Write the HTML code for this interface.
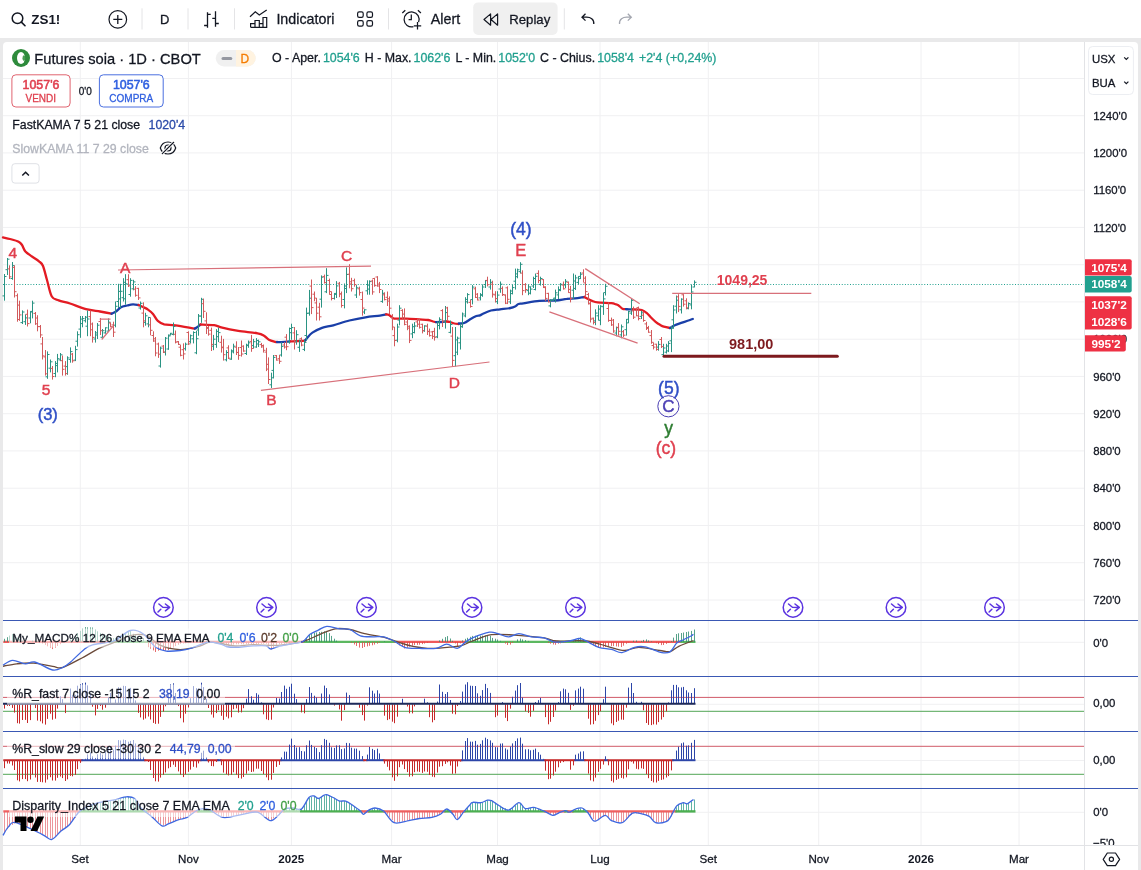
<!DOCTYPE html>
<html><head><meta charset="utf-8"><title>ZS1! Futures soia</title>
<style>
html,body{margin:0;padding:0;background:#e9e9ea;}
body{width:1141px;height:870px;overflow:hidden;position:relative;font-family:'Liberation Sans','DejaVu Sans',sans-serif;}
svg text{font-family:'Liberation Sans','DejaVu Sans',sans-serif;}
</style></head><body>
<svg width="1141" height="870" viewBox="0 0 1141 870" style="position:absolute;left:0;top:0;display:block">
<rect x="0" y="0" width="1141" height="870" fill="#e9e9ea"/>
<rect x="0" y="0" width="1141" height="38" fill="#ffffff"/>
<path d="M3,46 a4,4 0 0 1 4,-4 H1134 a4,4 0 0 1 4,4 V870 H3 Z" fill="#ffffff"/>
<line x1="80.3" y1="42" x2="80.3" y2="845" stroke="#f0f0f2" stroke-width="1"/>
<line x1="188.4" y1="42" x2="188.4" y2="845" stroke="#f0f0f2" stroke-width="1"/>
<line x1="291.4" y1="42" x2="291.4" y2="845" stroke="#f0f0f2" stroke-width="1"/>
<line x1="391.6" y1="42" x2="391.6" y2="845" stroke="#f0f0f2" stroke-width="1"/>
<line x1="497.5" y1="42" x2="497.5" y2="845" stroke="#f0f0f2" stroke-width="1"/>
<line x1="600" y1="42" x2="600" y2="845" stroke="#f0f0f2" stroke-width="1"/>
<line x1="708.3" y1="42" x2="708.3" y2="845" stroke="#f0f0f2" stroke-width="1"/>
<line x1="818.7" y1="42" x2="818.7" y2="845" stroke="#f0f0f2" stroke-width="1"/>
<line x1="921" y1="42" x2="921" y2="845" stroke="#f0f0f2" stroke-width="1"/>
<line x1="1019" y1="42" x2="1019" y2="845" stroke="#f0f0f2" stroke-width="1"/>
<line x1="3" y1="78.5" x2="1084" y2="78.5" stroke="#f0f0f2" stroke-width="1"/>
<line x1="3" y1="115.7" x2="1084" y2="115.7" stroke="#f0f0f2" stroke-width="1"/>
<line x1="3" y1="152.9" x2="1084" y2="152.9" stroke="#f0f0f2" stroke-width="1"/>
<line x1="3" y1="190.2" x2="1084" y2="190.2" stroke="#f0f0f2" stroke-width="1"/>
<line x1="3" y1="227.4" x2="1084" y2="227.4" stroke="#f0f0f2" stroke-width="1"/>
<line x1="3" y1="264.7" x2="1084" y2="264.7" stroke="#f0f0f2" stroke-width="1"/>
<line x1="3" y1="301.9" x2="1084" y2="301.9" stroke="#f0f0f2" stroke-width="1"/>
<line x1="3" y1="339.2" x2="1084" y2="339.2" stroke="#f0f0f2" stroke-width="1"/>
<line x1="3" y1="376.4" x2="1084" y2="376.4" stroke="#f0f0f2" stroke-width="1"/>
<line x1="3" y1="413.7" x2="1084" y2="413.7" stroke="#f0f0f2" stroke-width="1"/>
<line x1="3" y1="450.9" x2="1084" y2="450.9" stroke="#f0f0f2" stroke-width="1"/>
<line x1="3" y1="488.2" x2="1084" y2="488.2" stroke="#f0f0f2" stroke-width="1"/>
<line x1="3" y1="525.5" x2="1084" y2="525.5" stroke="#f0f0f2" stroke-width="1"/>
<line x1="3" y1="562.7" x2="1084" y2="562.7" stroke="#f0f0f2" stroke-width="1"/>
<line x1="3" y1="600.0" x2="1084" y2="600.0" stroke="#f0f0f2" stroke-width="1"/>
<line x1="3" y1="642.3" x2="1084" y2="642.3" stroke="#f0f0f2" stroke-width="1"/>
<line x1="3" y1="704.3" x2="1084" y2="704.3" stroke="#f0f0f2" stroke-width="1"/>
<line x1="3" y1="760.5" x2="1084" y2="760.5" stroke="#f0f0f2" stroke-width="1"/>
<line x1="3" y1="812.3" x2="1084" y2="812.3" stroke="#f0f0f2" stroke-width="1"/>
<line x1="1084.5" y1="42" x2="1084.5" y2="870" stroke="#e2e3e6" stroke-width="1"/>
<line x1="3" y1="845.5" x2="1138" y2="845.5" stroke="#e2e3e6" stroke-width="1"/>
<line x1="3.3" y1="641.9" x2="110.5" y2="641.9" stroke="#ef5a5a" stroke-width="2.2" opacity="1"/><line x1="109.3" y1="641.9" x2="153.5" y2="641.9" stroke="#5cb860" stroke-width="2.2" opacity="1"/><line x1="152.3" y1="641.9" x2="304.5" y2="641.9" stroke="#ef5a5a" stroke-width="2.2" opacity="1"/><line x1="303.3" y1="641.9" x2="397.5" y2="641.9" stroke="#5cb860" stroke-width="2.2" opacity="1"/><line x1="396.3" y1="641.9" x2="467.5" y2="641.9" stroke="#ef5a5a" stroke-width="2.2" opacity="1"/><line x1="466.3" y1="641.9" x2="555.5" y2="641.9" stroke="#5cb860" stroke-width="2.2" opacity="1"/><line x1="554.3" y1="641.9" x2="558.5" y2="641.9" stroke="#ef5a5a" stroke-width="2.2" opacity="1"/><line x1="557.3" y1="641.9" x2="588.5" y2="641.9" stroke="#5cb860" stroke-width="2.2" opacity="1"/><line x1="587.3" y1="641.9" x2="681.5" y2="641.9" stroke="#ef5a5a" stroke-width="2.2" opacity="1"/><line x1="680.3" y1="641.9" x2="695.5" y2="641.9" stroke="#5cb860" stroke-width="2.2" opacity="1"/>
<path d="M4.5,641.9V638.8M7.5,641.9V637.2M9.5,641.9V635.6M12.5,641.9V634.0M14.5,641.9V635.2M17.5,641.9V637.5M19.5,641.9V639.0M22.5,641.9V640.6M32.5,641.9V640.6M35.5,641.9V639.5M37.5,641.9V640.7M67.5,641.9V640.5M70.5,641.9V639.5M72.5,641.9V637.4M75.5,641.9V635.2M77.5,641.9V633.0M80.5,641.9V630.8M82.5,641.9V628.6M85.5,641.9V627.1M87.5,641.9V627.3M90.5,641.9V627.4M92.5,641.9V627.5M95.5,641.9V629.4M97.5,641.9V631.3M100.5,641.9V632.9M102.5,641.9V633.9M105.5,641.9V634.9M108.5,641.9V636.0M110.5,641.9V637.0M113.5,641.9V638.1M115.5,641.9V637.9M118.5,641.9V636.7M120.5,641.9V635.6M123.5,641.9V634.5M125.5,641.9V633.4M128.5,641.9V632.2M130.5,641.9V631.1M133.5,641.9V633.8M135.5,641.9V634.9M138.5,641.9V635.9M140.5,641.9V636.9M143.5,641.9V638.0M198.5,641.9V640.8M201.5,641.9V640.3M203.5,641.9V640.5M206.5,641.9V640.7M208.5,641.9V640.9M304.5,641.9V640.8M306.5,641.9V637.9M309.5,641.9V635.0M311.5,641.9V633.3M314.5,641.9V632.8M316.5,641.9V632.4M319.5,641.9V632.0M321.5,641.9V631.8M324.5,641.9V631.3M326.5,641.9V630.9M329.5,641.9V633.1M331.5,641.9V635.9M334.5,641.9V638.7M336.5,641.9V640.6M384.5,641.9V641.2M439.5,641.9V640.4M442.5,641.9V638.8M445.5,641.9V637.1M447.5,641.9V636.1M450.5,641.9V638.5M452.5,641.9V640.8M462.5,641.9V640.4M465.5,641.9V638.8M467.5,641.9V637.8M470.5,641.9V636.8M472.5,641.9V635.9M475.5,641.9V635.7M477.5,641.9V635.6M480.5,641.9V635.6M482.5,641.9V635.6M485.5,641.9V635.5M487.5,641.9V635.5M490.5,641.9V635.8M492.5,641.9V637.9M495.5,641.9V638.7M497.5,641.9V639.5M500.5,641.9V640.8M517.5,641.9V639.4M520.5,641.9V638.6M522.5,641.9V639.4M525.5,641.9V640.1M528.5,641.9V640.9M573.5,641.9V640.3M575.5,641.9V639.1M578.5,641.9V637.9M580.5,641.9V637.3M583.5,641.9V639.4M633.5,641.9V640.7M636.5,641.9V640.5M641.5,641.9V640.9M643.5,641.9V639.9M646.5,641.9V639.4M648.5,641.9V640.4M651.5,641.9V641.3M671.5,641.9V641.1M673.5,641.9V637.6M676.5,641.9V634.0M678.5,641.9V633.3M681.5,641.9V633.0M683.5,641.9V632.5M686.5,641.9V632.0M688.5,641.9V631.5M691.5,641.9V630.9M694.5,641.9V629.5" stroke="#2e8b6e" stroke-width="1" opacity="0.8"/>
<path d="M42.5,641.9V643.5M45.5,641.9V644.9M47.5,641.9V646.3M50.5,641.9V647.7M52.5,641.9V649.1M55.5,641.9V647.8M57.5,641.9V646.0M60.5,641.9V644.2M145.5,641.9V642.7M148.5,641.9V647.1M150.5,641.9V648.7M153.5,641.9V650.4M155.5,641.9V652.0M158.5,641.9V650.7M160.5,641.9V649.3M163.5,641.9V650.0M165.5,641.9V650.7M168.5,641.9V650.1M170.5,641.9V648.7M173.5,641.9V647.4M175.5,641.9V646.1M178.5,641.9V644.8M180.5,641.9V643.7M183.5,641.9V643.5M185.5,641.9V643.3M188.5,641.9V643.1M190.5,641.9V642.9M193.5,641.9V642.5M213.5,641.9V642.5M216.5,641.9V642.7M218.5,641.9V642.9M221.5,641.9V643.2M223.5,641.9V644.3M226.5,641.9V645.4M228.5,641.9V645.5M231.5,641.9V645.1M233.5,641.9V644.6M236.5,641.9V644.3M238.5,641.9V644.3M241.5,641.9V644.3M243.5,641.9V644.3M246.5,641.9V644.3M248.5,641.9V644.3M251.5,641.9V644.3M253.5,641.9V644.3M256.5,641.9V644.2M258.5,641.9V644.1M261.5,641.9V643.9M263.5,641.9V643.8M266.5,641.9V643.8M268.5,641.9V646.8M271.5,641.9V649.5M273.5,641.9V647.7M276.5,641.9V645.9M279.5,641.9V644.3M281.5,641.9V644.0M284.5,641.9V643.8M286.5,641.9V643.6M289.5,641.9V643.4M291.5,641.9V643.1M294.5,641.9V642.8M296.5,641.9V642.6M351.5,641.9V642.9M354.5,641.9V644.5M356.5,641.9V646.0M359.5,641.9V647.6M362.5,641.9V648.0M364.5,641.9V647.0M367.5,641.9V646.4M369.5,641.9V645.8M372.5,641.9V645.3M374.5,641.9V644.6M377.5,641.9V643.7M379.5,641.9V642.7M394.5,641.9V642.7M397.5,641.9V644.0M399.5,641.9V645.4M402.5,641.9V646.9M404.5,641.9V648.5M407.5,641.9V647.8M409.5,641.9V646.7M412.5,641.9V645.7M414.5,641.9V645.1M417.5,641.9V644.9M419.5,641.9V644.7M422.5,641.9V644.1M424.5,641.9V643.6M427.5,641.9V643.0M455.5,641.9V643.5M457.5,641.9V646.2M460.5,641.9V643.4M505.5,641.9V643.6M507.5,641.9V645.0M510.5,641.9V644.6M512.5,641.9V643.0M548.5,641.9V643.0M550.5,641.9V643.7M553.5,641.9V644.5M555.5,641.9V644.8M558.5,641.9V643.7M560.5,641.9V643.3M563.5,641.9V642.9M565.5,641.9V642.5M588.5,641.9V642.9M590.5,641.9V644.1M593.5,641.9V645.3M595.5,641.9V646.5M598.5,641.9V647.7M600.5,641.9V647.9M603.5,641.9V647.4M605.5,641.9V647.0M608.5,641.9V646.5M611.5,641.9V646.1M613.5,641.9V646.1M616.5,641.9V646.4M618.5,641.9V646.7M621.5,641.9V647.0M623.5,641.9V645.7M626.5,641.9V643.7M628.5,641.9V642.7M656.5,641.9V643.2M658.5,641.9V644.1M661.5,641.9V645.1M663.5,641.9V645.0M666.5,641.9V643.9M668.5,641.9V642.8" stroke="#e04848" stroke-width="1" opacity="0.8"/>
<path d="M3.0,666.3 C5.3,665.9 11.7,664.3 16.8,663.8 C21.9,663.3 27.7,662.7 33.7,663.1 C39.7,663.5 47.7,665.6 52.6,666.3 C57.5,667.0 57.8,668.9 63.0,667.3 C68.2,665.7 78.1,659.9 84.1,656.8 C90.1,653.6 94.0,650.8 98.9,648.4 C103.8,646.0 108.0,644.9 113.6,642.7 C119.2,640.5 126.9,636.2 132.5,635.1 C138.1,634.0 142.6,634.1 147.2,635.8 C151.8,637.5 154.4,642.9 159.9,645.2 C165.4,647.5 173.3,649.5 180.0,649.6 C186.7,649.7 194.9,647.2 199.8,646.0 C204.7,644.8 206.0,642.6 209.4,642.2 C212.8,641.8 216.2,642.9 220.5,643.5 C224.8,644.1 229.7,645.8 235.2,646.0 C240.7,646.2 246.4,644.8 253.6,644.7 C260.8,644.6 270.0,645.8 278.2,645.3 C286.4,644.8 295.7,643.4 302.7,641.6 C309.7,639.8 314.6,636.4 320.0,634.3 C325.4,632.2 330.2,629.6 335.2,628.8 C340.2,628.0 345.0,628.7 349.9,629.5 C354.8,630.3 359.0,632.4 364.6,633.7 C370.2,635.0 378.0,635.8 383.6,637.2 C389.2,638.6 393.4,640.6 398.3,642.1 C403.2,643.6 407.4,645.2 413.0,646.3 C418.6,647.3 425.2,648.3 431.9,648.4 C438.6,648.5 448.0,647.3 453.0,646.8 C458.0,646.3 458.7,646.5 462.0,645.5 C465.3,644.5 467.7,642.8 472.6,641.0 C477.5,639.2 484.6,635.7 491.6,634.7 C498.6,633.7 506.0,634.6 514.7,635.1 C523.5,635.6 537.1,636.9 544.1,637.9 C551.1,638.9 549.8,640.5 556.8,641.0 C563.8,641.5 577.8,640.1 586.2,641.0 C594.6,641.9 600.9,644.7 607.2,646.3 C613.5,647.9 618.8,650.3 624.1,650.5 C629.4,650.7 632.8,647.3 638.8,647.3 C644.8,647.3 654.5,649.8 659.8,650.5 C665.0,651.2 667.1,652.3 670.3,651.6 C673.5,650.9 674.9,648.1 678.8,646.3 C682.7,644.4 691.0,641.5 693.5,640.5" stroke="#6b4a3a" stroke-width="1.3" fill="none" opacity="1" stroke-linejoin="round"/>
<path d="M3.0,665.2 C4.6,664.4 8.9,660.6 12.6,660.4 C16.3,660.2 21.5,663.5 25.2,663.8 C28.9,664.1 30.1,661.0 34.7,662.0 C39.3,663.0 47.9,669.1 52.6,670.0 C57.3,670.9 60.2,668.4 63.0,667.3 C65.8,666.1 65.9,666.1 69.4,663.1 C72.9,660.1 80.2,652.5 84.1,649.4 C88.0,646.3 87.7,646.2 92.6,644.8 C97.5,643.4 107.3,643.4 113.6,641.0 C119.9,638.6 125.5,631.7 130.4,630.5 C135.3,629.3 138.8,630.9 143.0,633.7 C147.2,636.5 151.8,644.4 155.7,647.3 C159.6,650.2 162.1,650.6 166.2,651.1 C170.2,651.6 175.7,651.0 180.0,650.5 C184.3,650.0 187.6,649.2 192.3,647.8 C197.0,646.4 203.5,642.8 208.2,642.2 C212.9,641.6 217.4,643.4 220.5,644.1 C223.6,644.8 224.2,646.0 226.6,646.5 C229.0,647.0 230.7,647.3 235.2,647.2 C239.7,647.1 248.5,646.1 253.6,645.9 C258.7,645.7 263.0,645.4 265.9,645.9 C268.8,646.4 268.8,648.9 270.8,649.0 C272.9,649.1 274.9,647.3 278.2,646.5 C281.5,645.7 286.3,644.9 290.4,644.1 C294.5,643.3 299.4,643.2 302.7,641.6 C306.0,640.0 307.4,636.2 310.0,634.3 C312.6,632.4 315.5,631.4 318.3,630.1 C321.1,628.8 323.3,626.5 326.8,626.3 C330.3,626.1 335.5,628.3 339.4,628.8 C343.2,629.3 346.4,628.3 349.9,629.5 C353.4,630.7 356.5,634.6 360.4,635.8 C364.2,637.0 369.1,636.6 373.0,636.8 C376.9,637.0 380.1,636.1 383.6,636.8 C387.1,637.5 390.5,639.2 394.0,641.0 C397.5,642.8 400.4,646.1 404.6,647.3 C408.8,648.5 414.1,648.2 419.3,648.4 C424.6,648.6 431.5,649.1 436.1,648.4 C440.7,647.7 443.2,644.2 446.7,644.2 C450.2,644.2 454.3,648.6 457.2,648.4 C460.1,648.2 461.6,644.9 464.2,643.1 C466.8,641.4 468.4,639.7 472.6,637.9 C476.8,636.1 485.2,632.9 489.4,632.2 C493.6,631.5 494.7,632.9 497.9,633.7 C501.1,634.5 504.9,636.8 508.4,636.8 C511.9,636.8 515.0,633.7 518.9,633.7 C522.8,633.7 527.3,636.1 531.5,636.8 C535.7,637.5 540.2,637.0 544.1,637.9 C548.0,638.8 550.5,641.6 554.7,642.1 C558.9,642.6 565.2,641.6 569.4,641.0 C573.6,640.4 576.8,638.3 579.9,638.5 C583.0,638.7 585.1,640.6 588.3,642.1 C591.4,643.6 594.9,646.1 598.8,647.3 C602.7,648.5 607.6,648.5 611.5,649.4 C615.4,650.3 618.1,653.0 622.0,652.6 C625.9,652.2 630.8,648.2 634.6,647.3 C638.5,646.3 640.6,646.0 645.1,646.9 C649.6,647.8 657.7,651.8 661.9,652.6 C666.1,653.4 667.8,653.2 670.3,651.6 C672.8,650.0 674.6,645.0 676.7,643.1 C678.8,641.2 680.5,641.2 683.0,640.0 C685.5,638.8 689.6,636.8 691.4,635.8 C693.1,634.8 693.1,634.5 693.5,634.3" stroke="#3f68e0" stroke-width="1.3" fill="none" opacity="1" stroke-linejoin="round"/>
<line x1="3" y1="697.4" x2="1084" y2="697.4" stroke="#d05a68" stroke-width="1"/>
<line x1="3" y1="711.3" x2="1084" y2="711.3" stroke="#52a656" stroke-width="1"/>
<path d="M60.5,703.3V696.3M62.5,703.3V699.2M70.5,703.3V688.5M72.5,703.3V695.1M75.5,703.3V694.8M77.5,703.3V685.7M80.5,703.3V684.0M82.5,703.3V683.2M85.5,703.3V682.6M87.5,703.3V685.4M90.5,703.3V693.5M108.5,703.3V697.3M110.5,703.3V693.0M115.5,703.3V699.5M118.5,703.3V687.2M120.5,703.3V687.5M123.5,703.3V685.8M125.5,703.3V686.1M128.5,703.3V688.7M130.5,703.3V687.9M133.5,703.3V688.9M135.5,703.3V700.4M168.5,703.3V693.4M170.5,703.3V684.2M173.5,703.3V683.3M175.5,703.3V693.0M190.5,703.3V698.2M193.5,703.3V686.1M196.5,703.3V688.2M198.5,703.3V688.3M201.5,703.3V682.7M203.5,703.3V687.1M206.5,703.3V698.8M246.5,703.3V698.7M248.5,703.3V689.1M251.5,703.3V696.3M253.5,703.3V699.7M256.5,703.3V693.2M258.5,703.3V694.7M261.5,703.3V702.4M276.5,703.3V698.0M279.5,703.3V698.5M281.5,703.3V692.0M284.5,703.3V685.6M286.5,703.3V688.8M289.5,703.3V686.8M291.5,703.3V683.7M294.5,703.3V693.7M296.5,703.3V699.1M306.5,703.3V699.1M309.5,703.3V687.1M311.5,703.3V692.9M314.5,703.3V695.7M316.5,703.3V697.6M321.5,703.3V693.5M324.5,703.3V685.6M326.5,703.3V688.1M329.5,703.3V694.4M346.5,703.3V692.6M349.5,703.3V695.1M369.5,703.3V687.3M372.5,703.3V690.7M374.5,703.3V693.5M377.5,703.3V690.3M379.5,703.3V693.6M402.5,703.3V698.8M424.5,703.3V698.7M427.5,703.3V702.3M437.5,703.3V701.6M439.5,703.3V684.5M442.5,703.3V691.8M445.5,703.3V694.0M447.5,703.3V692.1M450.5,703.3V700.0M460.5,703.3V701.0M462.5,703.3V691.6M465.5,703.3V684.5M467.5,703.3V682.2M470.5,703.3V685.7M472.5,703.3V685.9M475.5,703.3V686.0M477.5,703.3V693.3M480.5,703.3V695.8M482.5,703.3V690.1M485.5,703.3V683.9M487.5,703.3V688.1M490.5,703.3V692.9M502.5,703.3V702.1M512.5,703.3V696.8M515.5,703.3V690.6M517.5,703.3V685.2M520.5,703.3V683.0M522.5,703.3V697.6M535.5,703.3V702.0M538.5,703.3V700.1M540.5,703.3V697.9M558.5,703.3V702.1M560.5,703.3V691.3M563.5,703.3V688.6M565.5,703.3V689.3M568.5,703.3V692.8M575.5,703.3V690.4M578.5,703.3V688.6M580.5,703.3V686.7M583.5,703.3V688.7M603.5,703.3V699.2M605.5,703.3V686.7M628.5,703.3V687.6M631.5,703.3V683.0M633.5,703.3V693.0M636.5,703.3V701.8M641.5,703.3V701.8M668.5,703.3V702.4M671.5,703.3V690.3M673.5,703.3V684.9M676.5,703.3V684.9M678.5,703.3V687.3M681.5,703.3V687.4M683.5,703.3V686.9M686.5,703.3V690.3M688.5,703.3V692.5M691.5,703.3V693.0M694.5,703.3V688.2" stroke="#2c45a8" stroke-width="1"/><path d="M4.5,704.3V708.6M7.5,704.3V705.9M9.5,704.3V706.0M12.5,704.3V707.9M14.5,704.3V712.6M17.5,704.3V723.2M19.5,704.3V723.6M22.5,704.3V720.0M25.5,704.3V719.9M27.5,704.3V723.0M30.5,704.3V720.1M35.5,704.3V708.1M37.5,704.3V720.6M40.5,704.3V721.3M42.5,704.3V723.4M45.5,704.3V724.6M47.5,704.3V718.9M50.5,704.3V713.7M52.5,704.3V719.7M55.5,704.3V718.7M57.5,704.3V708.6M65.5,704.3V713.1M92.5,704.3V706.7M95.5,704.3V715.4M97.5,704.3V708.9M100.5,704.3V705.9M102.5,704.3V709.7M105.5,704.3V707.7M138.5,704.3V712.9M140.5,704.3V717.4M143.5,704.3V719.7M145.5,704.3V718.5M148.5,704.3V716.5M150.5,704.3V719.5M153.5,704.3V722.9M155.5,704.3V723.9M158.5,704.3V723.7M160.5,704.3V716.9M163.5,704.3V711.6M165.5,704.3V706.3M178.5,704.3V706.1M180.5,704.3V718.2M183.5,704.3V722.4M185.5,704.3V713.7M188.5,704.3V707.5M208.5,704.3V708.0M211.5,704.3V714.5M213.5,704.3V717.6M216.5,704.3V713.1M218.5,704.3V710.2M221.5,704.3V715.8M223.5,704.3V719.9M226.5,704.3V716.7M228.5,704.3V718.4M231.5,704.3V717.3M233.5,704.3V709.2M236.5,704.3V708.4M238.5,704.3V712.6M241.5,704.3V712.4M243.5,704.3V708.2M263.5,704.3V714.3M266.5,704.3V719.3M268.5,704.3V720.1M271.5,704.3V719.7M273.5,704.3V707.5M301.5,704.3V712.4M304.5,704.3V713.3M334.5,704.3V705.6M339.5,704.3V709.4M341.5,704.3V720.7M344.5,704.3V710.1M359.5,704.3V707.8M362.5,704.3V715.1M364.5,704.3V720.6M367.5,704.3V705.6M384.5,704.3V715.7M387.5,704.3V720.1M389.5,704.3V719.2M392.5,704.3V721.7M394.5,704.3V723.2M397.5,704.3V716.7M407.5,704.3V706.5M409.5,704.3V713.3M412.5,704.3V713.4M414.5,704.3V706.4M429.5,704.3V717.2M432.5,704.3V722.3M434.5,704.3V720.1M452.5,704.3V713.7M455.5,704.3V714.3M457.5,704.3V706.0M495.5,704.3V717.2M497.5,704.3V715.6M505.5,704.3V717.8M507.5,704.3V721.1M510.5,704.3V708.7M525.5,704.3V711.3M528.5,704.3V712.9M530.5,704.3V716.7M533.5,704.3V710.8M545.5,704.3V717.1M548.5,704.3V724.3M550.5,704.3V721.8M553.5,704.3V717.0M555.5,704.3V710.6M570.5,704.3V709.9M573.5,704.3V705.8M588.5,704.3V718.7M590.5,704.3V724.6M593.5,704.3V724.2M595.5,704.3V720.8M598.5,704.3V715.1M600.5,704.3V711.2M611.5,704.3V723.4M613.5,704.3V725.2M616.5,704.3V722.0M618.5,704.3V720.7M621.5,704.3V719.6M623.5,704.3V719.8M626.5,704.3V707.7M643.5,704.3V710.3M646.5,704.3V723.0M648.5,704.3V724.9M651.5,704.3V725.1M653.5,704.3V724.4M656.5,704.3V724.6M658.5,704.3V722.1M661.5,704.3V719.6M663.5,704.3V717.1M666.5,704.3V711.4" stroke="#c62828" stroke-width="1"/>
<line x1="3" y1="703.8" x2="695.5" y2="703.8" stroke="#1e2a5a" stroke-width="2"/>
<line x1="3" y1="746.3" x2="1084" y2="746.3" stroke="#d05a68" stroke-width="1"/>
<line x1="3" y1="774.3" x2="1084" y2="774.3" stroke="#52a656" stroke-width="1"/>
<path d="M82.5,759.7V759.4M85.5,759.7V758.7M87.5,759.7V754.4M90.5,759.7V752.4M92.5,759.7V756.3M95.5,759.7V757.9M97.5,759.7V754.3M100.5,759.7V753.0M102.5,759.7V754.6M105.5,759.7V751.6M108.5,759.7V746.7M110.5,759.7V746.3M113.5,759.7V749.7M115.5,759.7V745.6M118.5,759.7V740.1M120.5,759.7V740.5M123.5,759.7V739.6M125.5,759.7V740.0M128.5,759.7V741.7M130.5,759.7V740.9M133.5,759.7V740.0M135.5,759.7V743.5M138.5,759.7V747.2M140.5,759.7V750.0M143.5,759.7V756.8M201.5,759.7V752.8M203.5,759.7V750.7M206.5,759.7V757.3M218.5,759.7V759.7M281.5,759.7V757.4M284.5,759.7V751.6M286.5,759.7V751.7M289.5,759.7V744.6M291.5,759.7V738.6M294.5,759.7V745.0M296.5,759.7V747.5M299.5,759.7V747.2M301.5,759.7V751.0M304.5,759.7V751.4M306.5,759.7V745.3M309.5,759.7V740.5M311.5,759.7V744.9M314.5,759.7V746.9M316.5,759.7V748.1M319.5,759.7V752.1M321.5,759.7V745.2M324.5,759.7V738.9M326.5,759.7V739.9M329.5,759.7V742.8M331.5,759.7V747.3M334.5,759.7V747.9M336.5,759.7V745.4M339.5,759.7V745.3M341.5,759.7V749.1M344.5,759.7V748.4M346.5,759.7V742.9M349.5,759.7V743.2M351.5,759.7V747.7M354.5,759.7V748.5M356.5,759.7V748.6M359.5,759.7V750.7M362.5,759.7V756.1M367.5,759.7V754.6M369.5,759.7V747.0M372.5,759.7V748.9M374.5,759.7V750.1M377.5,759.7V748.7M379.5,759.7V753.4M382.5,759.7V759.4M462.5,759.7V750.4M465.5,759.7V741.0M467.5,759.7V738.1M470.5,759.7V741.6M472.5,759.7V741.7M475.5,759.7V740.9M477.5,759.7V744.7M480.5,759.7V743.9M482.5,759.7V740.3M485.5,759.7V737.7M487.5,759.7V739.1M490.5,759.7V740.4M492.5,759.7V742.8M495.5,759.7V747.1M497.5,759.7V747.3M500.5,759.7V743.6M502.5,759.7V743.4M505.5,759.7V748.4M507.5,759.7V749.6M510.5,759.7V746.5M512.5,759.7V743.4M515.5,759.7V741.0M517.5,759.7V738.4M520.5,759.7V737.6M522.5,759.7V743.7M525.5,759.7V749.3M528.5,759.7V749.2M530.5,759.7V750.3M533.5,759.7V749.8M535.5,759.7V748.6M538.5,759.7V752.2M540.5,759.7V754.7M543.5,759.7V758.9M575.5,759.7V754.7M578.5,759.7V753.5M580.5,759.7V751.6M583.5,759.7V751.3M605.5,759.7V756.3M673.5,759.7V759.6M676.5,759.7V750.6M678.5,759.7V746.7M681.5,759.7V743.3M683.5,759.7V742.5M686.5,759.7V745.7M688.5,759.7V745.4M691.5,759.7V742.8M694.5,759.7V739.9" stroke="#2c45a8" stroke-width="1"/><path d="M4.5,760.7V768.2M7.5,760.7V763.5M9.5,760.7V763.6M12.5,760.7V765.5M14.5,760.7V770.0M17.5,760.7V780.3M19.5,760.7V781.4M22.5,760.7V779.1M25.5,760.7V779.1M27.5,760.7V781.2M30.5,760.7V779.5M32.5,760.7V774.7M35.5,760.7V777.5M37.5,760.7V781.9M40.5,760.7V781.9M42.5,760.7V782.3M45.5,760.7V782.6M47.5,760.7V779.5M50.5,760.7V777.2M52.5,760.7V780.5M55.5,760.7V780.6M57.5,760.7V777.8M60.5,760.7V776.5M62.5,760.7V778.1M65.5,760.7V781.0M67.5,760.7V779.3M70.5,760.7V775.9M72.5,760.7V776.3M75.5,760.7V774.9M77.5,760.7V769.2M80.5,760.7V762.9M145.5,760.7V760.4M148.5,760.7V762.0M150.5,760.7V770.0M153.5,760.7V778.0M155.5,760.7V781.3M158.5,760.7V781.6M160.5,760.7V777.6M163.5,760.7V774.8M165.5,760.7V772.4M168.5,760.7V768.3M170.5,760.7V767.1M173.5,760.7V764.7M175.5,760.7V766.9M178.5,760.7V771.4M180.5,760.7V774.7M183.5,760.7V777.1M185.5,760.7V774.3M188.5,760.7V771.8M190.5,760.7V769.6M193.5,760.7V766.8M196.5,760.7V767.6M198.5,760.7V763.4M208.5,760.7V762.5M211.5,760.7V766.0M213.5,760.7V766.3M216.5,760.7V761.9M221.5,760.7V765.2M223.5,760.7V772.6M226.5,760.7V774.2M228.5,760.7V775.4M231.5,760.7V774.8M233.5,760.7V772.3M236.5,760.7V774.7M238.5,760.7V778.1M241.5,760.7V778.6M243.5,760.7V777.0M246.5,760.7V773.7M248.5,760.7V770.7M251.5,760.7V772.0M253.5,760.7V771.6M256.5,760.7V768.7M258.5,760.7V768.7M261.5,760.7V771.0M263.5,760.7V774.1M266.5,760.7V777.3M268.5,760.7V780.2M271.5,760.7V779.7M273.5,760.7V772.9M276.5,760.7V766.9M279.5,760.7V764.9M364.5,760.7V760.7M384.5,760.7V763.6M387.5,760.7V766.8M389.5,760.7V770.4M392.5,760.7V777.3M394.5,760.7V780.8M397.5,760.7V776.4M399.5,760.7V767.2M402.5,760.7V764.5M404.5,760.7V769.1M407.5,760.7V772.1M409.5,760.7V776.7M412.5,760.7V776.3M414.5,760.7V772.2M417.5,760.7V771.5M419.5,760.7V771.9M422.5,760.7V772.9M424.5,760.7V771.5M427.5,760.7V771.8M429.5,760.7V775.0M432.5,760.7V776.7M434.5,760.7V777.2M437.5,760.7V772.6M439.5,760.7V766.7M442.5,760.7V766.2M445.5,760.7V763.9M447.5,760.7V762.3M450.5,760.7V765.6M452.5,760.7V773.8M455.5,760.7V773.5M457.5,760.7V766.5M460.5,760.7V761.6M545.5,760.7V770.7M548.5,760.7V779.2M550.5,760.7V778.7M553.5,760.7V775.5M555.5,760.7V771.7M558.5,760.7V767.3M560.5,760.7V762.9M563.5,760.7V762.1M565.5,760.7V760.5M568.5,760.7V760.8M570.5,760.7V769.7M573.5,760.7V765.4M585.5,760.7V760.4M588.5,760.7V773.6M590.5,760.7V780.4M593.5,760.7V781.4M595.5,760.7V777.6M598.5,760.7V771.8M600.5,760.7V768.9M603.5,760.7V764.6M608.5,760.7V765.3M611.5,760.7V781.1M613.5,760.7V782.5M616.5,760.7V779.9M618.5,760.7V778.8M621.5,760.7V777.9M623.5,760.7V778.6M626.5,760.7V777.3M628.5,760.7V769.3M631.5,760.7V761.7M633.5,760.7V763.6M636.5,760.7V768.8M638.5,760.7V769.3M641.5,760.7V768.3M643.5,760.7V768.9M646.5,760.7V774.2M648.5,760.7V778.2M651.5,760.7V781.0M653.5,760.7V782.4M656.5,760.7V782.5M658.5,760.7V780.9M661.5,760.7V779.9M663.5,760.7V779.4M666.5,760.7V777.5M668.5,760.7V776.1M671.5,760.7V770.4" stroke="#c62828" stroke-width="1"/>
<line x1="3.3" y1="760.2" x2="82.5" y2="760.2" stroke="#c62828" stroke-width="2" opacity="1"/><line x1="81.3" y1="760.2" x2="145.5" y2="760.2" stroke="#2c45a8" stroke-width="2" opacity="1"/><line x1="144.3" y1="760.2" x2="201.5" y2="760.2" stroke="#c62828" stroke-width="2" opacity="1"/><line x1="200.3" y1="760.2" x2="208.5" y2="760.2" stroke="#2c45a8" stroke-width="2" opacity="1"/><line x1="207.3" y1="760.2" x2="218.5" y2="760.2" stroke="#c62828" stroke-width="2" opacity="1"/><line x1="217.3" y1="760.2" x2="221.5" y2="760.2" stroke="#2c45a8" stroke-width="2" opacity="1"/><line x1="220.3" y1="760.2" x2="281.5" y2="760.2" stroke="#c62828" stroke-width="2" opacity="1"/><line x1="280.3" y1="760.2" x2="364.5" y2="760.2" stroke="#2c45a8" stroke-width="2" opacity="1"/><line x1="363.3" y1="760.2" x2="367.5" y2="760.2" stroke="#c62828" stroke-width="2" opacity="1"/><line x1="366.3" y1="760.2" x2="384.5" y2="760.2" stroke="#2c45a8" stroke-width="2" opacity="1"/><line x1="383.3" y1="760.2" x2="462.5" y2="760.2" stroke="#c62828" stroke-width="2" opacity="1"/><line x1="461.3" y1="760.2" x2="545.5" y2="760.2" stroke="#2c45a8" stroke-width="2" opacity="1"/><line x1="544.3" y1="760.2" x2="575.5" y2="760.2" stroke="#c62828" stroke-width="2" opacity="1"/><line x1="574.3" y1="760.2" x2="585.5" y2="760.2" stroke="#2c45a8" stroke-width="2" opacity="1"/><line x1="584.3" y1="760.2" x2="605.5" y2="760.2" stroke="#c62828" stroke-width="2" opacity="1"/><line x1="604.3" y1="760.2" x2="608.5" y2="760.2" stroke="#2c45a8" stroke-width="2" opacity="1"/><line x1="607.3" y1="760.2" x2="673.5" y2="760.2" stroke="#c62828" stroke-width="2" opacity="1"/><line x1="672.3" y1="760.2" x2="695.5" y2="760.2" stroke="#2c45a8" stroke-width="2" opacity="1"/>
<path d="M80.5,811.4V811.3M82.5,811.4V809.9M85.5,811.4V808.7M87.5,811.4V807.4M90.5,811.4V806.2M92.5,811.4V804.9M95.5,811.4V803.8M97.5,811.4V803.3M100.5,811.4V802.7M102.5,811.4V802.2M105.5,811.4V801.7M108.5,811.4V801.2M110.5,811.4V800.7M113.5,811.4V800.2M115.5,811.4V799.7M118.5,811.4V799.1M120.5,811.4V798.4M123.5,811.4V797.8M125.5,811.4V797.1M128.5,811.4V797.1M130.5,811.4V797.6M133.5,811.4V798.1M135.5,811.4V799.3M138.5,811.4V803.1M140.5,811.4V806.8M143.5,811.4V809.4M145.5,811.4V811.4M198.5,811.4V810.0M201.5,811.4V809.7M203.5,811.4V809.5M206.5,811.4V809.2M208.5,811.4V809.0M211.5,811.4V810.4M284.5,811.4V810.1M286.5,811.4V808.8M289.5,811.4V808.5M291.5,811.4V808.2M294.5,811.4V808.1M296.5,811.4V808.4M299.5,811.4V808.7M301.5,811.4V809.0M304.5,811.4V805.6M306.5,811.4V801.7M309.5,811.4V797.8M311.5,811.4V796.8M314.5,811.4V796.1M316.5,811.4V797.3M319.5,811.4V798.2M321.5,811.4V796.8M324.5,811.4V795.4M326.5,811.4V794.8M329.5,811.4V795.6M331.5,811.4V796.7M334.5,811.4V797.9M336.5,811.4V799.3M339.5,811.4V800.7M341.5,811.4V801.0M344.5,811.4V801.0M346.5,811.4V801.4M349.5,811.4V803.0M351.5,811.4V804.5M354.5,811.4V806.3M356.5,811.4V808.2M359.5,811.4V810.1M369.5,811.4V810.0M372.5,811.4V809.2M374.5,811.4V808.3M377.5,811.4V808.6M379.5,811.4V809.5M382.5,811.4V810.4M445.5,811.4V810.8M447.5,811.4V809.3M450.5,811.4V811.4M465.5,811.4V810.9M467.5,811.4V808.0M470.5,811.4V805.2M472.5,811.4V802.7M475.5,811.4V802.4M477.5,811.4V802.5M480.5,811.4V802.6M482.5,811.4V802.2M485.5,811.4V801.2M487.5,811.4V800.2M490.5,811.4V800.4M492.5,811.4V801.1M495.5,811.4V802.7M497.5,811.4V804.4M500.5,811.4V805.8M502.5,811.4V807.1M505.5,811.4V808.3M507.5,811.4V809.6M510.5,811.4V809.0M512.5,811.4V807.3M515.5,811.4V805.5M517.5,811.4V803.7M520.5,811.4V803.7M522.5,811.4V806.1M525.5,811.4V808.4M528.5,811.4V808.3M530.5,811.4V807.9M533.5,811.4V807.6M535.5,811.4V807.9M538.5,811.4V808.8M540.5,811.4V809.7M543.5,811.4V810.6M565.5,811.4V810.7M573.5,811.4V810.5M575.5,811.4V809.2M578.5,811.4V808.7M580.5,811.4V808.3M583.5,811.4V808.7M585.5,811.4V810.8M676.5,811.4V807.3M678.5,811.4V805.0M681.5,811.4V803.8M683.5,811.4V802.8M686.5,811.4V803.5M688.5,811.4V802.9M691.5,811.4V801.2M694.5,811.4V799.5" stroke="#2b9a88" stroke-width="1" opacity="0.75"/>
<path d="M4.5,811.4V833.1M7.5,811.4V829.2M9.5,811.4V826.3M12.5,811.4V824.9M14.5,811.4V823.5M17.5,811.4V823.2M19.5,811.4V824.3M22.5,811.4V825.4M25.5,811.4V826.6M27.5,811.4V827.7M30.5,811.4V828.8M32.5,811.4V829.9M35.5,811.4V831.0M37.5,811.4V832.1M40.5,811.4V833.2M42.5,811.4V834.4M45.5,811.4V835.7M47.5,811.4V837.1M50.5,811.4V838.5M52.5,811.4V838.9M55.5,811.4V836.6M57.5,811.4V834.4M60.5,811.4V832.1M62.5,811.4V830.1M65.5,811.4V828.2M67.5,811.4V826.4M70.5,811.4V824.3M72.5,811.4V821.1M75.5,811.4V817.8M77.5,811.4V814.6M148.5,811.4V813.4M150.5,811.4V815.4M153.5,811.4V817.6M155.5,811.4V819.8M158.5,811.4V822.1M160.5,811.4V824.4M163.5,811.4V825.6M165.5,811.4V824.8M168.5,811.4V823.9M170.5,811.4V823.0M173.5,811.4V822.0M175.5,811.4V821.0M178.5,811.4V820.0M180.5,811.4V819.2M183.5,811.4V818.5M185.5,811.4V817.9M188.5,811.4V816.8M190.5,811.4V815.1M193.5,811.4V813.3M196.5,811.4V811.5M213.5,811.4V811.8M216.5,811.4V813.2M218.5,811.4V814.7M221.5,811.4V816.1M223.5,811.4V817.4M226.5,811.4V817.0M228.5,811.4V816.6M231.5,811.4V816.2M233.5,811.4V815.8M236.5,811.4V815.4M238.5,811.4V815.0M241.5,811.4V814.6M243.5,811.4V814.2M246.5,811.4V813.8M248.5,811.4V813.5M251.5,811.4V813.1M253.5,811.4V812.8M256.5,811.4V812.4M258.5,811.4V812.9M261.5,811.4V814.6M263.5,811.4V816.3M266.5,811.4V817.9M268.5,811.4V819.6M271.5,811.4V820.0M273.5,811.4V818.4M276.5,811.4V816.8M279.5,811.4V815.2M281.5,811.4V812.7M362.5,811.4V812.2M364.5,811.4V813.9M367.5,811.4V811.9M384.5,811.4V811.7M387.5,811.4V814.5M389.5,811.4V817.3M392.5,811.4V820.0M394.5,811.4V822.7M397.5,811.4V822.3M399.5,811.4V822.0M402.5,811.4V821.6M404.5,811.4V821.2M407.5,811.4V820.9M409.5,811.4V820.5M412.5,811.4V820.0M414.5,811.4V819.5M417.5,811.4V819.0M419.5,811.4V818.5M422.5,811.4V818.3M424.5,811.4V818.1M427.5,811.4V817.8M429.5,811.4V817.6M432.5,811.4V817.4M434.5,811.4V816.5M437.5,811.4V815.6M439.5,811.4V814.6M442.5,811.4V813.0M452.5,811.4V813.5M455.5,811.4V816.3M457.5,811.4V819.5M460.5,811.4V816.8M462.5,811.4V813.8M545.5,811.4V811.6M548.5,811.4V812.8M550.5,811.4V814.1M553.5,811.4V815.3M555.5,811.4V814.3M558.5,811.4V813.3M560.5,811.4V812.4M563.5,811.4V811.5M568.5,811.4V811.6M570.5,811.4V811.8M588.5,811.4V812.8M590.5,811.4V815.8M593.5,811.4V819.0M595.5,811.4V820.7M598.5,811.4V819.3M600.5,811.4V817.9M603.5,811.4V816.5M605.5,811.4V815.6M608.5,811.4V817.7M611.5,811.4V819.8M613.5,811.4V820.9M616.5,811.4V821.4M618.5,811.4V821.9M621.5,811.4V822.4M623.5,811.4V821.7M626.5,811.4V819.4M628.5,811.4V817.2M631.5,811.4V814.9M633.5,811.4V813.2M636.5,811.4V813.4M638.5,811.4V813.5M641.5,811.4V813.7M643.5,811.4V814.4M646.5,811.4V815.2M648.5,811.4V816.1M651.5,811.4V817.8M653.5,811.4V820.4M656.5,811.4V822.7M658.5,811.4V822.4M661.5,811.4V822.2M663.5,811.4V822.0M666.5,811.4V821.7M668.5,811.4V819.4M671.5,811.4V816.4M673.5,811.4V811.9" stroke="#e0505a" stroke-width="1" opacity="0.6"/>
<line x1="3.3" y1="811.4" x2="80.5" y2="811.4" stroke="#ef6060" stroke-width="2.4" opacity="1"/><line x1="79.3" y1="811.4" x2="148.5" y2="811.4" stroke="#4caf50" stroke-width="2.4" opacity="1"/><line x1="147.3" y1="811.4" x2="198.5" y2="811.4" stroke="#ef6060" stroke-width="2.4" opacity="1"/><line x1="197.3" y1="811.4" x2="213.5" y2="811.4" stroke="#4caf50" stroke-width="2.4" opacity="1"/><line x1="212.3" y1="811.4" x2="284.5" y2="811.4" stroke="#ef6060" stroke-width="2.4" opacity="1"/><line x1="283.3" y1="811.4" x2="362.5" y2="811.4" stroke="#4caf50" stroke-width="2.4" opacity="1"/><line x1="361.3" y1="811.4" x2="369.5" y2="811.4" stroke="#ef6060" stroke-width="2.4" opacity="1"/><line x1="368.3" y1="811.4" x2="384.5" y2="811.4" stroke="#4caf50" stroke-width="2.4" opacity="1"/><line x1="383.3" y1="811.4" x2="445.5" y2="811.4" stroke="#ef6060" stroke-width="2.4" opacity="1"/><line x1="444.3" y1="811.4" x2="452.5" y2="811.4" stroke="#4caf50" stroke-width="2.4" opacity="1"/><line x1="451.3" y1="811.4" x2="465.5" y2="811.4" stroke="#ef6060" stroke-width="2.4" opacity="1"/><line x1="464.3" y1="811.4" x2="545.5" y2="811.4" stroke="#4caf50" stroke-width="2.4" opacity="1"/><line x1="544.3" y1="811.4" x2="565.5" y2="811.4" stroke="#ef6060" stroke-width="2.4" opacity="1"/><line x1="564.3" y1="811.4" x2="568.5" y2="811.4" stroke="#4caf50" stroke-width="2.4" opacity="1"/><line x1="567.3" y1="811.4" x2="573.5" y2="811.4" stroke="#ef6060" stroke-width="2.4" opacity="1"/><line x1="572.3" y1="811.4" x2="588.5" y2="811.4" stroke="#4caf50" stroke-width="2.4" opacity="1"/><line x1="587.3" y1="811.4" x2="676.5" y2="811.4" stroke="#ef6060" stroke-width="2.4" opacity="1"/><line x1="675.3" y1="811.4" x2="695.5" y2="811.4" stroke="#4caf50" stroke-width="2.4" opacity="1"/>
<path d="M3.0,835.3 C3.9,833.9 6.3,829.0 8.4,826.9 C10.5,824.8 10.2,821.5 15.8,822.7 C21.4,823.9 36.0,831.5 42.0,834.3 C48.0,837.1 48.3,840.0 51.5,839.5 C54.7,839.0 58.0,833.5 61.0,831.0 C64.0,828.5 66.2,828.1 69.4,824.8 C72.6,821.5 75.8,814.6 80.0,811.1 C84.2,807.6 88.8,805.7 94.7,803.8 C100.7,801.9 110.5,800.8 115.7,799.6 C121.0,798.4 123.1,797.0 126.2,796.8 C129.3,796.6 132.1,796.6 134.6,798.5 C137.1,800.4 138.2,805.0 141.0,808.0 C143.8,811.0 148.0,813.4 151.5,816.4 C155.0,819.4 159.2,824.7 162.0,825.9 C164.8,827.1 165.5,824.8 168.3,823.8 C171.1,822.8 175.7,820.7 178.8,819.6 C182.0,818.5 184.0,819.0 187.2,817.4 C190.3,815.8 194.2,811.4 197.7,810.0 C201.2,808.6 204.0,807.8 208.2,809.0 C212.4,810.2 217.3,816.5 223.0,817.4 C228.7,818.3 236.9,815.2 242.6,814.3 C248.3,813.4 252.7,811.2 257.3,812.2 C261.9,813.2 266.5,820.1 270.0,820.6 C273.5,821.1 275.9,817.2 278.4,815.3 C280.8,813.4 282.2,810.2 284.7,809.0 C287.1,807.8 290.3,808.0 293.1,808.0 C295.9,808.0 298.9,810.8 301.5,809.0 C304.1,807.2 306.8,799.7 308.9,797.5 C311.0,795.3 312.5,795.8 314.1,796.0 C315.7,796.2 316.7,798.6 318.3,798.5 C319.9,798.4 322.2,796.0 323.6,795.4 C325.0,794.8 325.2,794.4 326.8,794.7 C328.4,795.1 331.0,796.5 333.1,797.5 C335.2,798.5 337.3,800.4 339.4,801.0 C341.5,801.6 343.6,800.4 345.7,801.0 C347.8,801.6 349.6,803.1 352.0,804.8 C354.4,806.5 358.5,809.5 360.4,811.1 C362.3,812.7 362.2,814.5 363.6,814.3 C365.0,814.1 366.9,811.1 368.8,810.1 C370.7,809.1 372.6,807.8 375.1,808.0 C377.6,808.2 380.4,808.6 383.6,811.1 C386.8,813.6 389.9,821.1 394.1,822.7 C398.3,824.3 404.6,821.3 408.8,820.6 C413.0,819.9 415.5,819.0 419.3,818.5 C423.1,818.0 428.4,818.1 431.9,817.4 C435.4,816.7 437.9,815.7 440.4,814.3 C442.9,812.9 444.6,809.0 446.7,809.0 C448.8,809.0 451.2,812.5 453.0,814.3 C454.8,816.1 455.4,820.0 457.2,819.6 C458.9,819.2 461.4,814.7 463.5,812.2 C465.6,809.7 468.5,806.4 470.0,804.8 C471.5,803.1 470.8,802.6 472.6,802.3 C474.4,801.9 478.6,803.1 481.0,802.7 C483.4,802.4 485.5,800.6 487.3,800.2 C489.1,799.9 489.8,799.8 491.6,800.6 C493.4,801.4 495.1,803.2 497.9,804.8 C500.7,806.4 504.9,810.5 508.4,810.1 C511.9,809.8 516.1,803.0 518.9,802.7 C521.7,802.5 522.8,807.8 525.2,808.6 C527.7,809.4 530.5,807.0 533.6,807.4 C536.8,807.8 540.9,809.8 544.1,811.1 C547.3,812.4 550.1,815.0 552.6,815.3 C555.1,815.6 556.8,813.6 558.9,812.8 C561.0,812.0 563.5,810.8 565.2,810.7 C567.0,810.6 567.6,812.5 569.4,812.2 C571.1,811.9 573.6,809.7 575.7,809.0 C577.8,808.3 579.9,807.3 582.0,808.0 C584.1,808.7 586.2,811.0 588.3,813.2 C590.4,815.4 591.8,820.9 594.6,821.2 C597.4,821.6 602.3,815.4 605.1,815.3 C607.9,815.2 608.7,819.4 611.5,820.6 C614.3,821.8 618.5,823.9 622.0,822.7 C625.5,821.5 629.4,814.7 632.5,813.2 C635.6,811.7 638.1,813.2 640.9,813.7 C643.7,814.2 646.8,814.9 649.3,816.4 C651.8,817.9 652.8,821.8 655.6,822.7 C658.4,823.6 663.7,822.6 666.1,821.7 C668.5,820.8 668.5,820.0 670.3,817.4 C672.1,814.8 674.6,808.3 676.7,805.9 C678.8,803.5 681.2,803.1 683.0,802.7 C684.8,802.4 685.6,804.2 687.2,803.8 C688.8,803.4 691.4,800.9 692.4,800.2 C693.4,799.5 693.3,799.6 693.5,799.5" stroke="#3f68e0" stroke-width="1.3" fill="none" opacity="1" stroke-linejoin="round"/>
<line x1="3" y1="620.5" x2="1138" y2="620.5" stroke="#3a58b4" stroke-width="1.1"/>
<line x1="3" y1="676.5" x2="1138" y2="676.5" stroke="#3a58b4" stroke-width="1.1"/>
<line x1="3" y1="731.5" x2="1138" y2="731.5" stroke="#3a58b4" stroke-width="1.1"/>
<line x1="3" y1="788.5" x2="1138" y2="788.5" stroke="#3a58b4" stroke-width="1.1"/>
<line x1="3" y1="284.5" x2="1084" y2="284.5" stroke="#22a08f" stroke-width="1" stroke-dasharray="1,1.75"/>
<path d="M3.0,237.4 C4.2,237.7 7.4,238.3 10.0,239.0 C12.6,239.7 16.6,240.7 18.6,241.7 C20.6,242.7 20.9,243.4 22.0,245.0 C23.1,246.6 23.7,249.6 25.4,251.5 C27.1,253.4 29.7,254.9 32.0,256.5 C34.3,258.1 37.2,259.7 39.0,261.3 C40.8,262.9 41.7,262.9 43.0,266.0 C44.3,269.1 45.5,274.9 47.0,280.0 C48.5,285.1 49.8,293.1 51.8,296.5 C53.8,299.9 55.7,299.2 58.7,300.4 C61.7,301.6 65.5,302.0 70.0,303.5 C74.5,305.0 81.0,307.9 86.0,309.2 C91.0,310.5 95.8,310.8 100.0,311.5 C104.2,312.2 109.6,313.3 111.5,313.7" stroke="#e31b23" stroke-width="2.3" fill="none" stroke-linejoin="round" stroke-linecap="round"/>
<path d="M111.5,313.7 C112.2,313.3 114.4,312.6 116.0,311.5 C117.6,310.4 119.2,308.2 121.0,307.2 C122.8,306.2 125.0,306.0 127.0,305.5 C129.0,305.0 131.1,304.4 133.0,304.3 C134.9,304.2 137.6,304.9 138.5,305.0" stroke="#1a3fa8" stroke-width="2.3" fill="none" stroke-linejoin="round" stroke-linecap="round"/>
<path d="M138.5,305.0 C139.2,305.3 141.4,306.2 143.0,307.0 C144.6,307.8 146.3,308.4 148.0,309.6 C149.7,310.8 151.4,312.1 153.0,314.0 C154.6,315.9 155.9,319.2 157.8,320.9 C159.7,322.6 161.2,323.6 164.2,324.4 C167.1,325.1 170.4,324.7 175.5,325.4 C180.6,326.1 191.6,328.1 194.8,328.6" stroke="#e31b23" stroke-width="2.3" fill="none" stroke-linejoin="round" stroke-linecap="round"/>
<path d="M194.8,328.6 C195.2,328.3 196.6,327.7 197.5,327.0 C198.4,326.3 200.0,324.9 200.5,324.5" stroke="#1a3fa8" stroke-width="2.3" fill="none" stroke-linejoin="round" stroke-linecap="round"/>
<path d="M200.5,324.5 C202.8,324.6 210.6,324.7 214.2,325.2 C217.8,325.7 218.2,326.7 222.2,327.6 C226.2,328.6 232.4,329.9 238.3,330.9 C244.2,331.8 253.3,332.5 257.6,333.3 C261.9,334.1 262.1,334.6 264.0,335.7 C265.9,336.8 267.0,338.7 268.9,339.7 C270.8,340.7 273.9,341.4 275.3,341.8 C276.7,342.2 276.7,342.0 277.0,342.0" stroke="#e31b23" stroke-width="2.3" fill="none" stroke-linejoin="round" stroke-linecap="round"/>
<path d="M277.0,342.0 C277.5,342.0 278.0,342.2 280.2,342.1 C282.4,342.0 288.4,341.5 290.0,341.4" stroke="#1a3fa8" stroke-width="2.3" fill="none" stroke-linejoin="round" stroke-linecap="round"/>
<path d="M290.0,341.4 C291.7,341.3 297.5,341.1 300.0,341.0 C302.5,340.9 304.2,340.7 305.0,340.6" stroke="#e31b23" stroke-width="2.3" fill="none" stroke-linejoin="round" stroke-linecap="round"/>
<path d="M305.0,340.6 C305.5,340.0 306.8,338.3 308.0,337.0 C309.2,335.7 310.1,334.1 312.4,332.6 C314.7,331.1 318.5,329.0 322.0,327.8 C325.5,326.6 328.7,326.5 333.3,325.3 C337.9,324.1 344.0,321.8 349.4,320.5 C354.8,319.2 360.4,318.1 365.5,317.3 C370.6,316.5 376.6,316.1 380.0,315.6 C383.4,315.1 385.1,314.5 386.1,314.3" stroke="#1a3fa8" stroke-width="2.3" fill="none" stroke-linejoin="round" stroke-linecap="round"/>
<path d="M386.1,314.3 C386.6,314.4 387.8,314.4 389.0,315.0 C390.2,315.6 391.7,317.6 393.1,318.2 C394.5,318.8 395.3,318.6 397.5,318.7 C399.7,318.8 402.7,318.6 406.3,318.7 C409.9,318.8 415.8,319.2 419.4,319.4 C423.0,319.6 425.9,319.6 428.2,320.0 C430.5,320.4 431.7,321.1 433.0,321.5 C434.3,321.9 435.5,322.0 436.0,322.1" stroke="#e31b23" stroke-width="2.3" fill="none" stroke-linejoin="round" stroke-linecap="round"/>
<path d="M436.0,322.1 C436.8,322.1 439.4,322.1 441.0,322.0 C442.6,321.9 444.8,321.5 445.6,321.4" stroke="#1a3fa8" stroke-width="2.3" fill="none" stroke-linejoin="round" stroke-linecap="round"/>
<path d="M445.6,321.4 C446.3,321.5 448.5,321.6 450.0,322.0 C451.5,322.4 453.1,323.2 454.5,323.5 C455.9,323.8 458.0,323.9 458.7,324.0" stroke="#e31b23" stroke-width="2.3" fill="none" stroke-linejoin="round" stroke-linecap="round"/>
<path d="M458.9,323.5 C459.8,323.4 462.1,323.8 464.1,323.0 C466.1,322.2 469.1,319.9 471.1,318.7 C473.2,317.5 474.9,316.6 476.4,316.0 C477.9,315.4 478.9,315.8 480.0,315.4 C481.1,315.0 481.2,314.5 483.0,313.7 C484.8,312.9 488.2,311.2 491.0,310.5 C493.8,309.8 496.8,309.7 500.0,309.3 C503.2,308.9 507.9,308.5 510.4,308.0 C512.9,307.5 513.6,307.2 515.0,306.5 C516.4,305.8 517.1,304.5 518.5,304.0 C519.9,303.5 519.8,303.8 523.3,303.3 C526.8,302.8 534.0,301.4 539.4,300.9 C544.8,300.4 550.9,300.8 555.5,300.5 C560.1,300.2 563.5,299.2 566.8,298.9 C570.0,298.5 572.0,298.7 575.0,298.4 C578.0,298.1 582.9,297.2 584.5,297.0" stroke="#1a3fa8" stroke-width="2.3" fill="none" stroke-linejoin="round" stroke-linecap="round"/>
<path d="M584.5,297.0 C585.1,297.3 586.8,298.4 588.0,299.0 C589.2,299.6 590.4,300.2 592.0,300.8 C593.6,301.4 594.4,302.0 597.6,302.4 C600.8,302.8 608.5,302.8 611.4,303.1 C614.3,303.4 613.9,303.6 615.0,304.0 C616.1,304.4 617.1,304.4 618.3,305.2 C619.5,306.0 621.1,308.0 622.4,308.7 C623.7,309.4 625.4,309.1 626.0,309.2" stroke="#e31b23" stroke-width="2.3" fill="none" stroke-linejoin="round" stroke-linecap="round"/>
<path d="M626.0,309.2 C626.5,309.2 628.0,309.3 629.0,309.3 C630.0,309.3 631.5,309.4 632.0,309.4" stroke="#1a3fa8" stroke-width="2.3" fill="none" stroke-linejoin="round" stroke-linecap="round"/>
<path d="M632.0,309.4 C633.6,309.5 639.2,309.3 641.8,310.0 C644.3,310.7 645.8,312.2 647.3,313.5 C648.8,314.8 649.6,316.1 651.0,317.5 C652.4,318.9 654.1,320.6 655.6,321.8 C657.1,323.0 658.6,324.0 660.0,324.8 C661.4,325.6 662.1,326.1 663.8,326.6 C665.5,327.1 669.0,327.8 670.0,328.0" stroke="#e31b23" stroke-width="2.3" fill="none" stroke-linejoin="round" stroke-linecap="round"/>
<path d="M670.0,328.0 C670.8,327.5 672.5,326.2 674.9,325.2 C677.3,324.2 681.5,322.8 684.5,321.8 C687.5,320.8 691.4,319.5 692.8,319.0" stroke="#1a3fa8" stroke-width="2.3" fill="none" stroke-linejoin="round" stroke-linecap="round"/>
<path d="M4.5,274.0V300.7M2.5,295.9H4.5M4.5,276.5H6.5M7.5,258.0V275.0M5.5,269.7H7.5M7.5,259.2H9.5M12.5,262.0V279.8M10.5,278.5H12.5M12.5,265.6H14.5M22.5,310.4V324.0M20.5,322.6H22.5M22.5,312.0H24.5M25.5,314.4V324.9M23.5,321.7H25.5M25.5,317.9H27.5M30.5,311.2V323.3M28.5,318.0H30.5M30.5,312.0H32.5M32.5,300.7V318.4M30.5,311.4H32.5M32.5,303.1H34.5M47.5,351.4V378.8M45.5,376.8H47.5M47.5,354.5H49.5M50.5,359.5V372.4M48.5,368.2H50.5M50.5,361.8H52.5M55.5,361.1V377.2M53.5,373.5H55.5M55.5,363.4H57.5M57.5,353.9V372.4M55.5,365.6H57.5M57.5,358.7H59.5M60.5,353.0V361.1M58.5,359.9H60.5M60.5,354.8H62.5M67.5,356.3V374.8M65.5,366.6H67.5M67.5,357.9H69.5M70.5,347.4V362.7M68.5,359.4H70.5M70.5,351.6H72.5M75.5,345.8V361.1M73.5,360.1H75.5M75.5,349.6H77.5M77.5,331.3V346.6M75.5,341.2H77.5M77.5,334.7H79.5M80.5,316.0V337.8M78.5,329.1H80.5M80.5,319.1H82.5M82.5,316.0V327.3M80.5,323.6H82.5M82.5,318.6H84.5M85.5,316.0V322.5M83.5,320.7H85.5M85.5,317.2H87.5M87.5,310.4V336.2M85.5,326.2H87.5M87.5,319.0H89.5M95.5,331.0V342.6M93.5,339.0H95.5M95.5,335.0H97.5M97.5,323.0V339.0M95.5,332.9H97.5M97.5,325.2H99.5M102.5,329.0V337.8M100.5,337.3H102.5M102.5,330.7H104.5M105.5,327.3V333.7M103.5,332.9H105.5M105.5,327.8H107.5M108.5,318.4V332.1M106.5,331.1H108.5M108.5,322.2H110.5M115.5,301.5V327.3M113.5,325.2H115.5M115.5,306.3H117.5M118.5,283.8V308.0M116.5,301.5H118.5M118.5,291.4H120.5M120.5,283.8V308.0M118.5,298.9H120.5M120.5,291.3H122.5M123.5,278.2V301.5M121.5,297.7H123.5M123.5,282.3H125.5M125.5,274.2V304.7M123.5,298.8H125.5M125.5,283.8H127.5M130.5,278.2V296.7M128.5,294.5H130.5M130.5,280.4H132.5M133.5,279.8V290.3M131.5,288.8H133.5M133.5,281.9H135.5M140.5,301.5V309.6M138.5,308.0H140.5M140.5,303.3H142.5M145.5,312.8V325.7M143.5,322.4H145.5M145.5,315.8H147.5M148.5,316.8V327.3M146.5,323.9H148.5M148.5,317.5H150.5M160.5,346.6V367.6M158.5,366.0H160.5M160.5,348.1H162.5M165.5,337.0V355.5M163.5,352.1H165.5M165.5,338.2H167.5M168.5,334.5V349.8M166.5,349.0H168.5M168.5,336.0H170.5M170.5,332.9V335.3M168.5,335.1H170.5M170.5,333.3H172.5M173.5,322.5V335.3M171.5,334.5H173.5M173.5,326.5H175.5M185.5,342.6V350.6M183.5,348.7H185.5M185.5,344.2H187.5M190.5,334.5V343.4M188.5,341.7H190.5M190.5,335.7H192.5M193.5,331.3V343.4M191.5,338.8H193.5M193.5,332.5H195.5M196.5,330.9V354.2M194.5,352.8H196.5M196.5,338.7H198.5M198.5,314.0V335.7M196.5,330.0H198.5M198.5,316.0H200.5M201.5,297.8V322.8M199.5,316.1H201.5M201.5,299.3H203.5M213.5,334.9V350.2M211.5,346.2H213.5M213.5,339.2H215.5M216.5,329.2V347.8M214.5,344.4H216.5M216.5,331.4H218.5M218.5,327.6V342.1M216.5,336.7H218.5M218.5,332.6H220.5M226.5,350.2V361.4M224.5,359.8H226.5M226.5,352.5H228.5M231.5,349.4V359.8M229.5,359.2H231.5M231.5,350.8H233.5M233.5,343.7V353.4M231.5,351.9H233.5M233.5,346.2H235.5M246.5,343.7V355.0M244.5,353.5H246.5M246.5,345.0H248.5M248.5,340.5V347.8M246.5,345.6H248.5M248.5,342.8H250.5M253.5,338.9V348.6M251.5,345.6H253.5M253.5,341.7H255.5M256.5,338.1V347.8M254.5,347.0H256.5M256.5,340.5H258.5M258.5,339.7V347.0M256.5,344.0H258.5M258.5,341.8H260.5M271.5,372.7V388.0M269.5,384.8H271.5M271.5,377.8H273.5M273.5,355.0V378.4M271.5,370.4H273.5M273.5,357.4H275.5M281.5,342.1V356.6M279.5,355.0H281.5M281.5,346.4H283.5M289.5,327.6V343.7M287.5,342.1H289.5M289.5,328.5H291.5M291.5,323.7V339.8M289.5,332.7H291.5M291.5,327.6H293.5M296.5,330.2V344.7M294.5,341.5H296.5M296.5,334.7H298.5M299.5,339.8V351.9M297.5,347.3H299.5M299.5,341.2H301.5M304.5,339.8V351.1M302.5,349.4H304.5M304.5,342.4H306.5M306.5,307.6V340.6M304.5,335.5H306.5M306.5,313.4H308.5M309.5,289.9V315.7M307.5,313.1H309.5M309.5,298.2H311.5M321.5,275.4V307.6M319.5,299.2H321.5M321.5,277.2H323.5M326.5,268.2V293.1M324.5,291.8H326.5M326.5,275.4H328.5M334.5,293.1V299.6M332.5,298.4H334.5M334.5,294.4H336.5M336.5,281.1V298.0M334.5,293.4H336.5M336.5,285.9H338.5M344.5,283.5V308.4M342.5,299.5H344.5M344.5,288.5H346.5M346.5,267.4V293.1M344.5,286.0H346.5M346.5,274.5H348.5M356.5,285.1V298.0M354.5,295.0H356.5M356.5,287.8H358.5M364.5,309.2V314.1M362.5,312.0H364.5M364.5,309.8H366.5M367.5,280.3V294.7M365.5,290.8H367.5M367.5,285.1H369.5M369.5,280.3V294.7M367.5,289.1H369.5M369.5,281.6H371.5M382.5,289.9V302.8M380.5,301.4H382.5M382.5,293.3H384.5M397.5,323.7V342.3M395.5,340.2H397.5M397.5,327.0H399.5M399.5,305.2V325.3M397.5,320.1H399.5M399.5,308.2H401.5M412.5,323.7V338.2M410.5,333.9H412.5M412.5,326.7H414.5M414.5,322.1V333.4M412.5,332.5H414.5M414.5,326.0H416.5M424.5,325.3V331.8M422.5,330.8H424.5M424.5,325.9H426.5M437.5,321.3V338.2M435.5,336.8H437.5M437.5,322.4H439.5M439.5,317.3V329.4M437.5,325.5H439.5M439.5,319.4H441.5M445.5,306.0V328.6M443.5,321.7H445.5M445.5,312.6H447.5M450.5,320.5V333.4M448.5,332.4H450.5M450.5,324.5H452.5M455.5,327.0V366.4M453.5,355.7H455.5M455.5,339.9H457.5M457.5,336.6V355.1M455.5,352.2H457.5M457.5,338.2H459.5M460.5,323.7V349.5M458.5,342.8H460.5M460.5,326.8H462.5M462.5,312.5V327.8M460.5,326.4H462.5M462.5,314.0H464.5M465.5,297.2V317.3M463.5,315.9H465.5M465.5,299.4H467.5M467.5,293.1V303.6M465.5,301.8H467.5M467.5,294.6H469.5M472.5,285.1V304.4M470.5,299.6H472.5M472.5,287.1H474.5M480.5,293.1V300.4M478.5,297.9H480.5M480.5,294.7H482.5M482.5,284.7V296.8M480.5,295.3H482.5M482.5,287.0H484.5M485.5,280.0V288.0M483.5,284.6H485.5M485.5,280.7H487.5M490.5,279.1V289.6M488.5,287.0H490.5M490.5,282.3H492.5M497.5,291.2V304.1M495.5,301.7H497.5M497.5,295.1H499.5M500.5,281.5V292.8M498.5,289.0H500.5M500.5,284.2H502.5M510.5,289.6V304.1M508.5,301.9H510.5M510.5,291.0H512.5M512.5,284.7V294.4M510.5,293.6H512.5M512.5,287.6H514.5M515.5,268.6V289.6M513.5,281.2H515.5M515.5,273.9H517.5M517.5,268.6V278.3M515.5,276.7H517.5M517.5,269.8H519.5M520.5,262.2V273.5M518.5,271.6H520.5M520.5,264.3H522.5M528.5,284.7V295.2M526.5,290.6H528.5M528.5,286.9H530.5M530.5,286.4V294.4M528.5,293.2H530.5M530.5,289.1H532.5M533.5,276.7V288.0M531.5,286.0H533.5M533.5,278.5H535.5M535.5,273.5V290.4M533.5,289.5H535.5M535.5,276.3H537.5M540.5,276.7V285.6M538.5,284.4H540.5M540.5,278.5H542.5M550.5,299.2V307.3M548.5,305.9H550.5M550.5,300.2H552.5M553.5,298.4V300.9M551.5,300.2H553.5M553.5,298.9H555.5M555.5,289.6V302.5M553.5,298.0H555.5M555.5,292.8H557.5M558.5,286.4V299.2M556.5,294.9H558.5M558.5,290.4H560.5M560.5,283.1V291.2M558.5,289.5H560.5M560.5,284.3H562.5M565.5,279.1V288.0M563.5,285.0H565.5M565.5,281.3H567.5M573.5,273.5V299.0M571.5,290.2H573.5M573.5,281.0H575.5M575.5,274.8V290.0M573.5,288.4H575.5M575.5,277.9H577.5M578.5,276.2V284.5M576.5,282.4H578.5M578.5,278.7H580.5M580.5,272.1V279.0M578.5,276.4H580.5M580.5,274.2H582.5M595.5,309.3V325.2M593.5,320.9H595.5M595.5,313.1H597.5M598.5,305.2V320.4M596.5,315.8H598.5M598.5,309.1H600.5M600.5,305.2V325.2M598.5,320.3H600.5M600.5,306.2H602.5M603.5,292.8V314.9M601.5,306.7H603.5M603.5,298.9H605.5M605.5,283.8V295.5M603.5,292.6H605.5M605.5,286.3H607.5M616.5,326.6V336.3M614.5,333.0H616.5M616.5,327.7H618.5M621.5,324.5V338.3M619.5,334.9H621.5M621.5,326.8H623.5M626.5,319.0V335.6M624.5,329.7H626.5M626.5,322.9H628.5M628.5,310.7V323.1M626.5,319.3H628.5M628.5,311.6H630.5M631.5,298.3V314.9M629.5,313.1H631.5M631.5,300.4H633.5M641.5,310.7V319.0M639.5,316.4H641.5M641.5,312.8H643.5M658.5,341.1V350.7M656.5,347.1H658.5M658.5,344.4H660.5M663.5,343.8V356.3M661.5,354.6H663.5M663.5,348.0H665.5M666.5,343.8V353.5M664.5,352.2H666.5M666.5,346.0H668.5M668.5,341.1V352.1M666.5,350.9H668.5M668.5,343.4H670.5M671.5,325.9V352.1M669.5,340.8H671.5M671.5,328.3H673.5M673.5,305.2V328.7M671.5,319.8H673.5M673.5,310.0H675.5M676.5,295.5V313.5M674.5,306.2H676.5M676.5,300.2H678.5M681.5,298.3V313.5M679.5,309.8H681.5M681.5,299.2H683.5M688.5,302.4V309.3M686.5,308.6H688.5M688.5,303.5H690.5M691.5,284.5V309.3M689.5,304.9H691.5M691.5,292.0H693.5M694.5,280.4V287.3M692.5,287.0H694.5M694.5,282.3H696.5" stroke="#2a9383" stroke-width="1" fill="none"/>
<path d="M9.5,265.3V279.0M7.5,268.9H9.5M9.5,276.8H11.5M14.5,265.3V297.5M12.5,267.4H14.5M14.5,291.7H16.5M17.5,293.5V321.7M15.5,295.7H17.5M17.5,319.5H19.5M19.5,300.7V320.9M17.5,305.1H19.5M19.5,314.9H21.5M27.5,309.6V326.5M25.5,314.3H27.5M27.5,323.6H29.5M35.5,312.0V324.9M33.5,313.4H35.5M35.5,323.8H37.5M37.5,315.2V331.3M35.5,318.0H37.5M37.5,326.6H39.5M40.5,325.0V337.8M38.5,326.6H40.5M40.5,334.9H42.5M42.5,337.0V359.5M40.5,343.9H42.5M42.5,355.9H44.5M45.5,350.0V375.6M43.5,356.9H45.5M45.5,373.8H47.5M52.5,366.0V379.6M50.5,368.4H52.5M52.5,376.5H54.5M62.5,355.5V375.6M60.5,360.7H62.5M62.5,369.3H64.5M65.5,361.1V375.6M63.5,366.1H65.5M65.5,373.6H67.5M72.5,353.0V362.7M70.5,354.1H72.5M72.5,360.8H74.5M90.5,310.4V336.2M88.5,316.6H90.5M90.5,329.8H92.5M92.5,322.5V342.6M90.5,324.0H92.5M92.5,337.4H94.5M100.5,318.0V335.0M98.5,321.5H100.5M100.5,330.7H102.5M110.5,322.5V327.3M108.5,323.0H110.5M110.5,326.7H112.5M113.5,321.7V337.0M111.5,324.9H113.5M113.5,332.2H115.5M128.5,274.2V287.0M126.5,279.7H128.5M128.5,285.8H130.5M135.5,286.2V296.7M133.5,289.2H135.5M135.5,295.3H137.5M138.5,287.8V300.0M136.5,288.4H138.5M138.5,297.9H140.5M143.5,302.3V327.3M141.5,313.1H143.5M143.5,320.9H145.5M150.5,317.6V335.3M148.5,324.9H150.5M150.5,330.3H152.5M153.5,331.3V341.8M151.5,335.5H153.5M153.5,338.8H155.5M155.5,337.0V356.3M153.5,341.0H155.5M155.5,353.0H157.5M158.5,342.6V357.9M156.5,344.0H158.5M158.5,354.2H160.5M163.5,345.0V353.0M161.5,346.1H163.5M163.5,352.2H165.5M175.5,330.5V343.4M173.5,334.3H175.5M175.5,342.2H177.5M178.5,341.0V345.0M176.5,341.6H178.5M178.5,344.4H180.5M180.5,345.0V356.3M178.5,347.2H180.5M180.5,355.3H182.5M183.5,343.4V359.5M181.5,349.7H183.5M183.5,353.9H185.5M188.5,331.3V345.0M186.5,332.5H188.5M188.5,343.9H190.5M203.5,298.6V318.0M201.5,303.7H203.5M203.5,311.3H205.5M206.5,312.3V334.0M204.5,320.9H206.5M206.5,328.4H208.5M208.5,326.0V335.7M206.5,327.5H208.5M208.5,334.1H210.5M211.5,327.6V351.0M209.5,330.3H211.5M211.5,344.4H213.5M221.5,335.7V352.6M219.5,342.3H221.5M221.5,347.7H223.5M223.5,338.9V360.6M221.5,347.1H223.5M223.5,354.7H225.5M228.5,345.3V359.0M226.5,347.9H228.5M228.5,358.2H230.5M236.5,341.3V355.0M234.5,347.2H236.5M236.5,352.5H238.5M238.5,347.0V359.8M236.5,352.4H238.5M238.5,355.4H240.5M241.5,340.5V356.6M239.5,347.5H241.5M241.5,354.0H243.5M243.5,345.3V351.8M241.5,346.2H243.5M243.5,351.0H245.5M251.5,334.9V351.8M249.5,341.4H251.5M251.5,348.5H253.5M261.5,342.9V347.8M259.5,344.6H261.5M261.5,346.9H263.5M263.5,344.5V352.6M261.5,345.5H263.5M263.5,350.3H265.5M266.5,347.8V371.1M264.5,352.1H266.5M266.5,364.3H268.5M268.5,357.4V384.0M266.5,369.1H268.5M268.5,379.5H270.5M276.5,355.0V360.6M274.5,355.6H276.5M276.5,360.1H278.5M279.5,355.0V363.9M277.5,358.7H279.5M279.5,361.3H281.5M284.5,342.1V348.6M282.5,345.0H284.5M284.5,347.0H286.5M286.5,334.1V350.2M284.5,337.2H286.5M286.5,346.7H288.5M294.5,327.0V349.5M292.5,332.9H294.5M294.5,342.1H296.5M301.5,337.4V346.3M299.5,338.7H301.5M301.5,345.1H303.5M311.5,279.5V314.1M309.5,286.1H311.5M311.5,307.6H313.5M314.5,291.5V301.2M312.5,294.2H314.5M314.5,298.1H316.5M316.5,298.0V320.5M314.5,302.9H316.5M316.5,313.2H318.5M319.5,302.8V320.5M317.5,307.2H319.5M319.5,316.8H321.5M324.5,274.6V283.5M322.5,276.6H324.5M324.5,282.6H326.5M329.5,278.6V294.7M327.5,280.5H329.5M329.5,291.6H331.5M331.5,291.5V300.4M329.5,294.5H331.5M331.5,298.5H333.5M339.5,281.9V297.2M337.5,283.3H339.5M339.5,293.9H341.5M341.5,291.5V307.6M339.5,293.9H341.5M341.5,305.5H343.5M349.5,264.2V288.3M347.5,274.2H349.5M349.5,283.9H351.5M351.5,277.8V291.5M349.5,281.8H351.5M351.5,288.7H353.5M354.5,278.6V286.7M352.5,280.7H354.5M354.5,284.6H356.5M359.5,286.7V295.6M357.5,288.8H359.5M359.5,292.6H361.5M362.5,291.5V315.7M360.5,299.5H362.5M362.5,308.1H364.5M372.5,279.5V294.7M370.5,281.0H372.5M372.5,291.9H374.5M374.5,277.8V286.7M372.5,278.5H374.5M374.5,285.6H376.5M377.5,276.2V286.7M375.5,277.0H377.5M377.5,284.1H379.5M379.5,281.9V293.1M377.5,286.0H379.5M379.5,289.5H381.5M384.5,292.3V300.4M382.5,294.8H384.5M384.5,299.6H386.5M387.5,291.5V306.0M385.5,297.3H387.5M387.5,301.1H389.5M389.5,296.4V314.1M387.5,298.8H389.5M389.5,308.2H391.5M392.5,314.1V330.2M390.5,317.5H392.5M392.5,327.0H394.5M394.5,327.0V346.3M392.5,335.6H394.5M394.5,340.5H396.5M402.5,309.2V318.9M400.5,310.4H402.5M402.5,317.5H404.5M404.5,308.4V325.3M402.5,314.1H404.5M404.5,324.4H406.5M407.5,318.9V330.2M405.5,322.0H407.5M407.5,328.1H409.5M409.5,325.3V343.1M407.5,326.3H409.5M409.5,340.4H411.5M417.5,318.9V327.0M415.5,321.9H417.5M417.5,324.2H419.5M419.5,318.9V328.6M417.5,319.8H419.5M419.5,327.3H421.5M422.5,323.7V333.4M420.5,324.3H422.5M422.5,330.6H424.5M427.5,323.7V335.0M425.5,326.2H427.5M427.5,331.3H429.5M429.5,328.6V336.6M427.5,331.6H429.5M429.5,335.6H431.5M432.5,331.0V339.0M430.5,331.9H432.5M432.5,336.4H434.5M434.5,327.8V340.6M432.5,331.4H434.5M434.5,337.3H436.5M442.5,309.2V327.0M440.5,310.6H442.5M442.5,321.1H444.5M447.5,306.8V320.5M445.5,307.9H447.5M447.5,316.3H449.5M452.5,327.0V366.4M450.5,336.1H452.5M452.5,360.4H454.5M470.5,299.6V307.6M468.5,302.4H470.5M470.5,306.5H472.5M475.5,286.7V298.0M473.5,288.8H475.5M475.5,297.4H477.5M477.5,293.1V300.4M475.5,294.2H477.5M477.5,300.0H479.5M487.5,276.7V286.4M485.5,280.4H487.5M487.5,284.7H489.5M492.5,280.7V297.6M490.5,284.2H492.5M492.5,294.2H494.5M495.5,291.2V302.5M493.5,294.9H495.5M495.5,298.6H497.5M502.5,286.4V296.0M500.5,288.4H502.5M502.5,294.5H504.5M505.5,294.4V304.1M503.5,295.1H505.5M505.5,303.2H507.5M507.5,286.4V304.1M505.5,287.8H507.5M507.5,299.3H509.5M522.5,270.3V295.2M520.5,273.1H522.5M522.5,290.6H524.5M525.5,283.1V292.8M523.5,284.6H525.5M525.5,289.5H527.5M538.5,270.3V283.1M536.5,273.4H538.5M538.5,280.5H540.5M543.5,279.1V288.0M541.5,279.6H543.5M543.5,286.8H545.5M545.5,286.4V300.9M543.5,287.6H545.5M545.5,298.4H547.5M548.5,292.8V302.5M546.5,293.4H548.5M548.5,301.9H550.5M563.5,281.5V289.6M561.5,285.1H563.5M563.5,288.8H565.5M568.5,281.5V292.8M566.5,282.3H568.5M568.5,289.4H570.5M570.5,285.9V302.4M568.5,292.6H570.5M570.5,298.5H572.5M583.5,269.3V282.4M581.5,273.0H583.5M583.5,278.2H585.5M585.5,276.2V297.0M583.5,282.9H585.5M585.5,291.6H587.5M588.5,292.8V304.5M586.5,294.5H588.5M588.5,303.8H590.5M590.5,301.0V322.5M588.5,303.2H590.5M590.5,319.1H592.5M593.5,317.6V324.5M591.5,318.2H593.5M593.5,322.4H595.5M608.5,302.4V321.8M606.5,308.5H608.5M608.5,320.4H610.5M611.5,317.6V325.9M609.5,320.5H611.5M611.5,324.9H613.5M613.5,319.0V332.8M611.5,320.1H613.5M613.5,331.0H615.5M618.5,323.1V335.6M616.5,327.4H618.5M618.5,331.3H620.5M623.5,330.0V337.0M621.5,331.7H623.5M623.5,335.2H625.5M633.5,306.6V319.0M631.5,310.9H633.5M633.5,317.2H635.5M636.5,308.0V316.2M634.5,310.3H636.5M636.5,315.8H638.5M638.5,306.6V320.4M636.5,307.6H638.5M638.5,318.6H640.5M643.5,312.1V321.8M641.5,315.2H643.5M643.5,320.5H645.5M646.5,321.8V330.0M644.5,323.9H646.5M646.5,328.4H648.5M648.5,325.9V332.8M646.5,327.5H648.5M648.5,332.2H650.5M651.5,330.0V343.8M649.5,335.6H651.5M651.5,342.3H653.5M653.5,342.5V349.4M651.5,345.5H653.5M653.5,347.1H655.5M656.5,343.8V350.7M654.5,344.2H656.5M656.5,349.4H658.5M661.5,337.0V348.0M659.5,339.5H661.5M661.5,346.6H663.5M678.5,294.2V312.1M676.5,296.8H678.5M678.5,306.4H680.5M683.5,294.2V306.6M681.5,294.8H683.5M683.5,304.2H685.5M686.5,298.3V309.3M684.5,300.8H686.5M686.5,307.8H688.5" stroke="#d25a5c" stroke-width="1" fill="none"/>
<line x1="118" y1="270" x2="371" y2="266.2" stroke="#d8707a" stroke-width="1.25"/>
<path d="M99.7,319H110.5 M101.7,339.5L113.4,325.8" stroke="#d8707a" stroke-width="1.25" fill="none"/>
<line x1="260.9" y1="390.4" x2="489.5" y2="362" stroke="#d8707a" stroke-width="1.25"/>
<line x1="585.2" y1="268.6" x2="639.7" y2="303.8" stroke="#d8707a" stroke-width="1.25"/>
<line x1="549.4" y1="311.8" x2="637.6" y2="343.2" stroke="#d8707a" stroke-width="1.25"/>
<line x1="672.2" y1="293.3" x2="811.3" y2="293.3" stroke="#d8707a" stroke-width="1.25"/>
<line x1="664" y1="356.2" x2="837.3" y2="356.2" stroke="#7d1a1e" stroke-width="3" stroke-linecap="round"/>
<text x="12.7" y="257.6" font-size="15.5" fill="#e0404f" stroke="#e0404f" stroke-width="0.45" text-anchor="middle">4</text>
<text x="46" y="394.5" font-size="15.5" fill="#e0404f" stroke="#e0404f" stroke-width="0.45" text-anchor="middle">5</text>
<text x="47.8" y="419.5" font-size="16.5" fill="#2f4fc6" stroke="#2f4fc6" stroke-width="0.45" text-anchor="middle">(3)</text>
<text x="125.2" y="272.6" font-size="15.5" fill="#e0404f" stroke="#e0404f" stroke-width="0.45" text-anchor="middle">A</text>
<text x="271.3" y="404.6" font-size="15.5" fill="#e0404f" stroke="#e0404f" stroke-width="0.45" text-anchor="middle">B</text>
<text x="346.6" y="261.2" font-size="15.5" fill="#e0404f" stroke="#e0404f" stroke-width="0.45" text-anchor="middle">C</text>
<text x="454.4" y="387.5" font-size="15.5" fill="#e0404f" stroke="#e0404f" stroke-width="0.45" text-anchor="middle">D</text>
<text x="520.8" y="256" font-size="16.5" fill="#e0404f" stroke="#e0404f" stroke-width="0.45" text-anchor="middle">E</text>
<text x="521" y="235.2" font-size="17.5" fill="#2f4fc6" stroke="#2f4fc6" stroke-width="0.45" text-anchor="middle">(4)</text>
<text x="668.8" y="394.2" font-size="17.5" fill="#2f4fc6" stroke="#2f4fc6" stroke-width="0.45" text-anchor="middle">(5)</text>
<circle cx="668.4" cy="406.3" r="10.6" fill="none" stroke="#4b3fb4" stroke-width="1"/>
<text x="668.4" y="412.4" font-size="17" fill="#4b3fb4" stroke="#4b3fb4" stroke-width="0.45" text-anchor="middle">C</text>
<text x="668.6" y="433.5" font-size="17.5" fill="#2e7d32" stroke="#2e7d32" stroke-width="0.45" text-anchor="middle">y</text>
<text x="666" y="454" font-size="17.5" fill="#e0404f" stroke="#e0404f" stroke-width="0.45" text-anchor="middle">(c)</text>
<text x="742.1" y="284.8" font-size="14" fill="#e0404f" font-weight="700" text-anchor="middle">1049,25</text>
<text x="751.2" y="349.2" font-size="14.5" fill="#7d1a1e" font-weight="700" text-anchor="middle">981,00</text>
<circle cx="163.4" cy="607.4" r="9.8" fill="#fff" stroke="#5b34e0" stroke-width="1.5"/>
<path d="M158.9,604.0 L162.8,607.3 L169.70000000000002,607.4 M165.4,604.0 L169.70000000000002,607.4 L165.4,610.8 M158.0,612.0 L160.8,609.1999999999999" stroke="#5b34e0" stroke-width="1.5" fill="none" stroke-linecap="round" stroke-linejoin="round"/>
<circle cx="266.5" cy="607.4" r="9.8" fill="#fff" stroke="#5b34e0" stroke-width="1.5"/>
<path d="M262.0,604.0 L265.9,607.3 L272.8,607.4 M268.5,604.0 L272.8,607.4 L268.5,610.8 M261.1,612.0 L263.9,609.1999999999999" stroke="#5b34e0" stroke-width="1.5" fill="none" stroke-linecap="round" stroke-linejoin="round"/>
<circle cx="366.5" cy="607.4" r="9.8" fill="#fff" stroke="#5b34e0" stroke-width="1.5"/>
<path d="M362.0,604.0 L365.9,607.3 L372.8,607.4 M368.5,604.0 L372.8,607.4 L368.5,610.8 M361.1,612.0 L363.9,609.1999999999999" stroke="#5b34e0" stroke-width="1.5" fill="none" stroke-linecap="round" stroke-linejoin="round"/>
<circle cx="472" cy="607.4" r="9.8" fill="#fff" stroke="#5b34e0" stroke-width="1.5"/>
<path d="M467.5,604.0 L471.4,607.3 L478.3,607.4 M474,604.0 L478.3,607.4 L474,610.8 M466.6,612.0 L469.4,609.1999999999999" stroke="#5b34e0" stroke-width="1.5" fill="none" stroke-linecap="round" stroke-linejoin="round"/>
<circle cx="575.5" cy="607.4" r="9.8" fill="#fff" stroke="#5b34e0" stroke-width="1.5"/>
<path d="M571.0,604.0 L574.9,607.3 L581.8,607.4 M577.5,604.0 L581.8,607.4 L577.5,610.8 M570.1,612.0 L572.9,609.1999999999999" stroke="#5b34e0" stroke-width="1.5" fill="none" stroke-linecap="round" stroke-linejoin="round"/>
<circle cx="793" cy="607.4" r="9.8" fill="#fff" stroke="#5b34e0" stroke-width="1.5"/>
<path d="M788.5,604.0 L792.4,607.3 L799.3,607.4 M795,604.0 L799.3,607.4 L795,610.8 M787.6,612.0 L790.4,609.1999999999999" stroke="#5b34e0" stroke-width="1.5" fill="none" stroke-linecap="round" stroke-linejoin="round"/>
<circle cx="896" cy="607.4" r="9.8" fill="#fff" stroke="#5b34e0" stroke-width="1.5"/>
<path d="M891.5,604.0 L895.4,607.3 L902.3,607.4 M898,604.0 L902.3,607.4 L898,610.8 M890.6,612.0 L893.4,609.1999999999999" stroke="#5b34e0" stroke-width="1.5" fill="none" stroke-linecap="round" stroke-linejoin="round"/>
<circle cx="994.5" cy="607.4" r="9.8" fill="#fff" stroke="#5b34e0" stroke-width="1.5"/>
<path d="M990.0,604.0 L993.9,607.3 L1000.8,607.4 M996.5,604.0 L1000.8,607.4 L996.5,610.8 M989.1,612.0 L991.9,609.1999999999999" stroke="#5b34e0" stroke-width="1.5" fill="none" stroke-linecap="round" stroke-linejoin="round"/>
<circle cx="17.5" cy="18.2" r="5.3" fill="none" stroke="#131722" stroke-width="1.5"/><line x1="21.4" y1="22.1" x2="25" y2="25.7" stroke="#131722" stroke-width="1.6" stroke-linecap="round"/>
<text x="31.3" y="23.8" font-size="13.4" fill="#131722" font-weight="700" text-anchor="start" letter-spacing="0">ZS1!</text>
<circle cx="117.8" cy="19.4" r="8.8" fill="none" stroke="#131722" stroke-width="1.2"/><path d="M113.3,19.4H122.3M117.8,14.9V23.9" stroke="#131722" stroke-width="1.3"/>
<line x1="142" y1="8.3" x2="142" y2="29.5" stroke="#e4e4e6" stroke-width="1"/>
<line x1="188" y1="8.3" x2="188" y2="29.5" stroke="#e4e4e6" stroke-width="1"/>
<line x1="234.5" y1="8.3" x2="234.5" y2="29.5" stroke="#e4e4e6" stroke-width="1"/>
<line x1="388.5" y1="8.3" x2="388.5" y2="29.5" stroke="#e4e4e6" stroke-width="1"/>
<line x1="564.3" y1="8.3" x2="564.3" y2="29.5" stroke="#e4e4e6" stroke-width="1"/>
<text x="164.6" y="23.9" font-size="13" fill="#131722" font-weight="400" text-anchor="middle"  stroke="#131722" stroke-width="0.28">D</text>
<path d="M207.5,12.3V27.7M204.1,25.5H207.5M207.5,14.3H210.7M215.5,11.2V26.7M212.3,18.3H215.5M215.5,23.5H218.8" stroke="#131722" stroke-width="1.3" fill="none"/>
<path d="M250,16.7L255.3,11.7L259.3,15L266.7,10" stroke="#131722" stroke-width="1.2" fill="none"/>
<path d="M250.6,27.3V23.6H255V27.3M255,27.3V20.5H259.3V27.3M259.3,27.3V23.6H263V27.3M263,27.3V17.5H266.7V27.3H250.6" stroke="#131722" stroke-width="1.2" fill="none"/>
<text x="276.4" y="23.9" font-size="14.3" fill="#131722" font-weight="400" text-anchor="start"  stroke="#131722" stroke-width="0.28">Indicatori</text>
<rect x="357.6" y="11.799999999999999" width="5.6" height="5.6" rx="1.6" fill="none" stroke="#131722" stroke-width="1.2"/>
<rect x="366.90000000000003" y="11.799999999999999" width="5.6" height="5.6" rx="1.6" fill="none" stroke="#131722" stroke-width="1.2"/>
<rect x="357.6" y="20.6" width="5.6" height="5.6" rx="1.6" fill="none" stroke="#131722" stroke-width="1.2"/>
<rect x="366.90000000000003" y="20.6" width="5.6" height="5.6" rx="1.6" fill="none" stroke="#131722" stroke-width="1.2"/>
<path d="M418.6,22.1 A7.5,7.5 0 1 0 413.4,26.7" stroke="#131722" stroke-width="1.25" fill="none"/>
<path d="M411.3,14.6V19.6H408.6 M402.3,13 L405.3,10.2 M420.9,13 L417.9,10.2 M413.8,25.8H421.2 M417.5,22.1V29.5" stroke="#131722" stroke-width="1.25" fill="none"/>
<text x="430.8" y="23.9" font-size="14.3" fill="#131722" font-weight="400" text-anchor="start"  stroke="#131722" stroke-width="0.28">Alert</text>
<rect x="473.2" y="2.4" width="84.4" height="32.6" rx="5" fill="#f0f0f0"/>
<path d="M490.6,13.9L484,19.5L490.6,25.2Z M497.6,13.9L491,19.5L497.6,25.2Z" stroke="#131722" stroke-width="1.2" fill="none" stroke-linejoin="round"/>
<text x="509.2" y="24.3" font-size="13.2" fill="#131722" font-weight="400" text-anchor="start"  stroke="#131722" stroke-width="0.28">Replay</text>
<path d="M593.8,24 C594.2,19 590.5,17 586,17.2 H582 M585.5,13.8 L582,17.2 L585.5,20.6" stroke="#131722" stroke-width="1.3" fill="none"/>
<path d="M619.5,24 C619.1,19 622.8,17 627.3,17.2 H631.3 M627.8,13.8 L631.3,17.2 L627.8,20.6" stroke="#a3a6af" stroke-width="1.3" fill="none"/>
<circle cx="21" cy="58" r="9" fill="#2e8b3c"/>
<ellipse cx="21" cy="58" rx="4" ry="6" fill="#fff"/>
<ellipse cx="23.9" cy="58.2" rx="1.4" ry="2.9" fill="#4a9e55"/>
<text x="34.3" y="64" font-size="14.7" fill="#131722" font-weight="400" text-anchor="start"  stroke="#131722" stroke-width="0.28">Futures soia · 1D · CBOT</text>
<rect x="215.8" y="50" width="39.8" height="16.5" rx="8.2" fill="#f0f0f0"/>
<path d="M236,50 H247.3 A8.2,8.2 0 0 1 247.3,66.5 H236 Z" fill="#fff3e0"/>
<line x1="223" y1="58.4" x2="230.8" y2="58.4" stroke="#9598a1" stroke-width="3" stroke-linecap="round"/>
<text x="244.8" y="62.8" font-size="12" fill="#f57c00" font-weight="400" text-anchor="middle"  stroke="#f57c00" stroke-width="0.28">D</text>
<text x="272" y="62.3" font-size="12.4" fill="#131722" stroke="#131722" stroke-width="0.28">O - Aper.<tspan fill="#22a08f" dx="2" stroke="#22a08f" stroke-width="0.28">1054'6</tspan><tspan dx="5">H - Max.</tspan><tspan fill="#22a08f" dx="2" stroke="#22a08f" stroke-width="0.28">1062'6</tspan><tspan dx="5">L - Min.</tspan><tspan fill="#22a08f" dx="2" stroke="#22a08f" stroke-width="0.28">1052'0</tspan><tspan dx="5">C - Chius.</tspan><tspan fill="#22a08f" dx="2" stroke="#22a08f" stroke-width="0.28">1058'4</tspan><tspan fill="#22a08f" dx="5" stroke="#22a08f" stroke-width="0.28">+2'4 (+0,24%)</tspan></text>
<rect x="11.9" y="74.8" width="58.2" height="32.2" rx="4" fill="#fff" stroke="#e06470" stroke-width="1"/>
<text x="41" y="88.6" font-size="12.4" fill="#e0404f" font-weight="400" text-anchor="middle" stroke="#e0404f" stroke-width="0.55">1057'6</text>
<text x="40.8" y="102.2" font-size="10" fill="#e0404f" font-weight="400" text-anchor="middle"  stroke="#e0404f" stroke-width="0.28">VENDI</text>
<text x="85.2" y="94.6" font-size="10" fill="#131722" font-weight="400" text-anchor="middle"  stroke="#131722" stroke-width="0.28">0'0</text>
<rect x="99.4" y="74.8" width="63.8" height="32.2" rx="4" fill="#fff" stroke="#4a6fe0" stroke-width="1"/>
<text x="131.3" y="88.6" font-size="12.4" fill="#2f5fe0" font-weight="400" text-anchor="middle" stroke="#2f5fe0" stroke-width="0.55">1057'6</text>
<text x="131.3" y="102.2" font-size="10" fill="#2f5fe0" font-weight="400" text-anchor="middle"  stroke="#2f5fe0" stroke-width="0.28">COMPRA</text>
<text x="12.3" y="128.8" font-size="12.3" fill="#131722" font-weight="400" text-anchor="start"  stroke="#131722" stroke-width="0.28">FastKAMA 7 5 21 close</text>
<text x="148.6" y="128.8" font-size="12.3" fill="#2a4aa8" font-weight="400" text-anchor="start"  stroke="#2a4aa8" stroke-width="0.28">1020'4</text>
<text x="12.3" y="152.8" font-size="12.3" fill="#b2b5be" font-weight="400" text-anchor="start"  stroke="#b2b5be" stroke-width="0.28">SlowKAMA 11 7 29 close</text>
<path d="M160.3,148 C162.8,140 173.2,140 175.7,148 C173.2,156 162.8,156 160.3,148Z" fill="none" stroke="#131722" stroke-width="1.2"/><circle cx="168" cy="148" r="3" fill="none" stroke="#131722" stroke-width="1.2"/><line x1="162.3" y1="153.6" x2="173.7" y2="142.3" stroke="#fff" stroke-width="3"/><line x1="162.3" y1="153.6" x2="173.7" y2="142.3" stroke="#131722" stroke-width="1.2" stroke-linecap="round"/>
<rect x="11.9" y="163.7" width="27.2" height="19.4" rx="3" fill="#fff" stroke="#dfe1e6" stroke-width="1"/>
<path d="M22.3,175.5 L25.6,172.2 L28.9,175.5" stroke="#131722" stroke-width="1.5" fill="none"/>
<rect x="1088.6" y="46.5" width="44.8" height="48" rx="4" fill="#fff" stroke="#eceef2" stroke-width="1"/>
<text x="1092" y="62.6" font-size="11.4" fill="#131722" font-weight="400" text-anchor="start"  stroke="#131722" stroke-width="0.28">USX</text>
<text x="1092" y="86.9" font-size="11.4" fill="#131722" font-weight="400" text-anchor="start"  stroke="#131722" stroke-width="0.28">BUA</text>
<path d="M1124.2,57.4 L1126.3,59.5 L1128.4,57.4" stroke="#131722" stroke-width="1.2" fill="none"/>
<path d="M1124.2,81.6 L1126.3,83.7 L1128.4,81.6" stroke="#131722" stroke-width="1.2" fill="none"/>
<text x="1093.2" y="119.8" font-size="11.4" fill="#131722" font-weight="400" text-anchor="start"  stroke="#131722" stroke-width="0.28">1240'0</text>
<text x="1093.2" y="157.04999999999998" font-size="11.4" fill="#131722" font-weight="400" text-anchor="start"  stroke="#131722" stroke-width="0.28">1200'0</text>
<text x="1093.2" y="194.29999999999998" font-size="11.4" fill="#131722" font-weight="400" text-anchor="start"  stroke="#131722" stroke-width="0.28">1160'0</text>
<text x="1093.2" y="231.54999999999998" font-size="11.4" fill="#131722" font-weight="400" text-anchor="start"  stroke="#131722" stroke-width="0.28">1120'0</text>
<text x="1093.2" y="380.55" font-size="11.4" fill="#131722" font-weight="400" text-anchor="start"  stroke="#131722" stroke-width="0.28">960'0</text>
<text x="1093.2" y="417.8" font-size="11.4" fill="#131722" font-weight="400" text-anchor="start"  stroke="#131722" stroke-width="0.28">920'0</text>
<text x="1093.2" y="455.05" font-size="11.4" fill="#131722" font-weight="400" text-anchor="start"  stroke="#131722" stroke-width="0.28">880'0</text>
<text x="1093.2" y="492.3" font-size="11.4" fill="#131722" font-weight="400" text-anchor="start"  stroke="#131722" stroke-width="0.28">840'0</text>
<text x="1093.2" y="529.5500000000001" font-size="11.4" fill="#131722" font-weight="400" text-anchor="start"  stroke="#131722" stroke-width="0.28">800'0</text>
<text x="1093.2" y="566.8000000000001" font-size="11.4" fill="#131722" font-weight="400" text-anchor="start"  stroke="#131722" stroke-width="0.28">760'0</text>
<text x="1093.2" y="604.0500000000001" font-size="11.4" fill="#131722" font-weight="400" text-anchor="start"  stroke="#131722" stroke-width="0.28">720'0</text>
<text x="1093.2" y="343.2" font-size="11.4" fill="#131722" font-weight="400" text-anchor="start"  stroke="#131722" stroke-width="0.28">1000'0</text>
<path d="M1085,259.3 H1129.7 a2,2 0 0 1 2,2 V273.6 a2,2 0 0 1 -2,2 H1085 Z" fill="#ee3144"/>
<text x="1109" y="271.65000000000003" font-size="11.8" fill="#fff" font-weight="700" text-anchor="middle" >1075'4</text>
<path d="M1085,276.1 H1129.7 a2,2 0 0 1 2,2 V290.4 a2,2 0 0 1 -2,2 H1085 Z" fill="#22a08f"/>
<text x="1109" y="288.45" font-size="11.8" fill="#fff" font-weight="700" text-anchor="middle" >1058'4</text>
<path d="M1085,296.3 H1129.7 a2,2 0 0 1 2,2 V327.4 a2,2 0 0 1 -2,2 H1085 Z" fill="#ee3144"/>
<text x="1109" y="317.05" font-size="11.8" fill="#fff" font-weight="700" text-anchor="middle" ></text>
<text x="1109" y="308.5" font-size="11.8" fill="#fff" font-weight="700" text-anchor="middle" >1037'2</text>
<text x="1109" y="325.5" font-size="11.8" fill="#fff" font-weight="700" text-anchor="middle" >1028'6</text>
<path d="M1085,335.2 H1123.8 a2,2 0 0 1 2,2 V349.4 a2,2 0 0 1 -2,2 H1085 Z" fill="#ee3144"/>
<text x="1106" y="347.49999999999994" font-size="11.8" fill="#fff" font-weight="700" text-anchor="middle" >995'2</text>
<text x="1093.2" y="646.5" font-size="11.4" fill="#131722" font-weight="400" text-anchor="start"  stroke="#131722" stroke-width="0.28">0'0</text>
<text x="1093.2" y="707" font-size="11.4" fill="#131722" font-weight="400" text-anchor="start"  stroke="#131722" stroke-width="0.28">0,00</text>
<text x="1093.2" y="764" font-size="11.4" fill="#131722" font-weight="400" text-anchor="start"  stroke="#131722" stroke-width="0.28">0,00</text>
<text x="1093.2" y="815.5" font-size="11.4" fill="#131722" font-weight="400" text-anchor="start"  stroke="#131722" stroke-width="0.28">0'0</text>
<svg x="1085" y="830" width="53" height="15" overflow="hidden"><text x="8" y="17" font-size="11.4" fill="#131722" stroke="#131722" stroke-width="0.28">−5'0</text></svg>
<text x="80" y="862.8" font-size="11.6" fill="#131722" font-weight="400" text-anchor="middle"  stroke="#131722" stroke-width="0.28">Set</text>
<text x="188.4" y="862.8" font-size="11.6" fill="#131722" font-weight="400" text-anchor="middle"  stroke="#131722" stroke-width="0.28">Nov</text>
<text x="291.2" y="862.8" font-size="11.6" fill="#131722" font-weight="700" text-anchor="middle" >2025</text>
<text x="391.6" y="862.8" font-size="11.6" fill="#131722" font-weight="400" text-anchor="middle"  stroke="#131722" stroke-width="0.28">Mar</text>
<text x="497.5" y="862.8" font-size="11.6" fill="#131722" font-weight="400" text-anchor="middle"  stroke="#131722" stroke-width="0.28">Mag</text>
<text x="600" y="862.8" font-size="11.6" fill="#131722" font-weight="400" text-anchor="middle"  stroke="#131722" stroke-width="0.28">Lug</text>
<text x="708.3" y="862.8" font-size="11.6" fill="#131722" font-weight="400" text-anchor="middle"  stroke="#131722" stroke-width="0.28">Set</text>
<text x="818.7" y="862.8" font-size="11.6" fill="#131722" font-weight="400" text-anchor="middle"  stroke="#131722" stroke-width="0.28">Nov</text>
<text x="921" y="862.8" font-size="11.6" fill="#131722" font-weight="700" text-anchor="middle" >2026</text>
<text x="1019" y="862.8" font-size="11.6" fill="#131722" font-weight="400" text-anchor="middle"  stroke="#131722" stroke-width="0.28">Mar</text>
<path d="M1107.3,853 H1115.5 L1119.6,859.3 L1115.5,865.6 H1107.3 L1103.2,859.3 Z" fill="none" stroke="#131722" stroke-width="1.2" stroke-linejoin="round"/><circle cx="1111.4" cy="859.3" r="2.1" fill="none" stroke="#131722" stroke-width="1.2"/>
<rect x="9" y="628.5" width="292" height="19.0" fill="#ffffff" opacity="0.55"/>
<text x="12.3" y="641.8" font-size="11.75" fill="#131722" stroke="#131722" stroke-width="0.28">My_MACD% 12 26 close 9 EMA EMA</text>
<text x="217.4" y="641.8" font-size="12.3" fill="#22a08f" stroke="#22a08f" stroke-width="0.28">0'4</text>
<text x="239.5" y="641.8" font-size="12.3" fill="#2f5fe0" stroke="#2f5fe0" stroke-width="0.28">0'6</text>
<text x="261" y="641.8" font-size="12.3" fill="#5a3a2a" stroke="#5a3a2a" stroke-width="0.28">0'2</text>
<text x="282.5" y="641.8" font-size="12.3" fill="#43a047" stroke="#43a047" stroke-width="0.28">0'0</text>
<rect x="7" y="684.5" width="218" height="20.100000000000023" fill="#ffffff" opacity="0.55"/>
<text x="12.3" y="697.6" font-size="12.3" fill="#131722" stroke="#131722" stroke-width="0.28">%R_fast 7 close -15 15 2</text>
<text x="158.9" y="697.6" font-size="12.3" fill="#2f4fc6" stroke="#2f4fc6" stroke-width="0.28">38,19</text>
<text x="196.3" y="697.6" font-size="12.3" fill="#131722" stroke="#131722" stroke-width="0.28">0,00</text>
<rect x="7" y="738" width="228" height="20.5" fill="#ffffff" opacity="0.55"/>
<text x="12.3" y="752.8" font-size="12.3" fill="#131722" stroke="#131722" stroke-width="0.28">%R_slow 29 close -30 30 2</text>
<text x="169.8" y="752.8" font-size="12.3" fill="#2f4fc6" stroke="#2f4fc6" stroke-width="0.28">44,79</text>
<text x="207.7" y="752.8" font-size="12.3" fill="#2f4fc6" stroke="#2f4fc6" stroke-width="0.28">0,00</text>
<rect x="9" y="798.5" width="291" height="18.5" fill="#ffffff" opacity="0.55"/>
<text x="12.3" y="809.5" font-size="12.5" fill="#131722" stroke="#131722" stroke-width="0.28">Disparity_Index 5 21 close 7 EMA EMA</text>
<text x="237.7" y="809.5" font-size="12.3" fill="#22a08f" stroke="#22a08f" stroke-width="0.28">2'0</text>
<text x="259.4" y="809.5" font-size="12.3" fill="#2f5fe0" stroke="#2f5fe0" stroke-width="0.28">2'0</text>
<text x="280.5" y="809.5" font-size="12.3" fill="#43a047" stroke="#43a047" stroke-width="0.28">0'0</text>
<path d="M15,816.5 H26.5 V831 H20.5 V822.5 H15 Z" fill="#000"/><circle cx="30.5" cy="819.7" r="3.2" fill="#000"/><path d="M37.5,816.5 H44.2 L37.2,831 H30.5 Z" fill="#000"/>
</svg>
</body></html>
